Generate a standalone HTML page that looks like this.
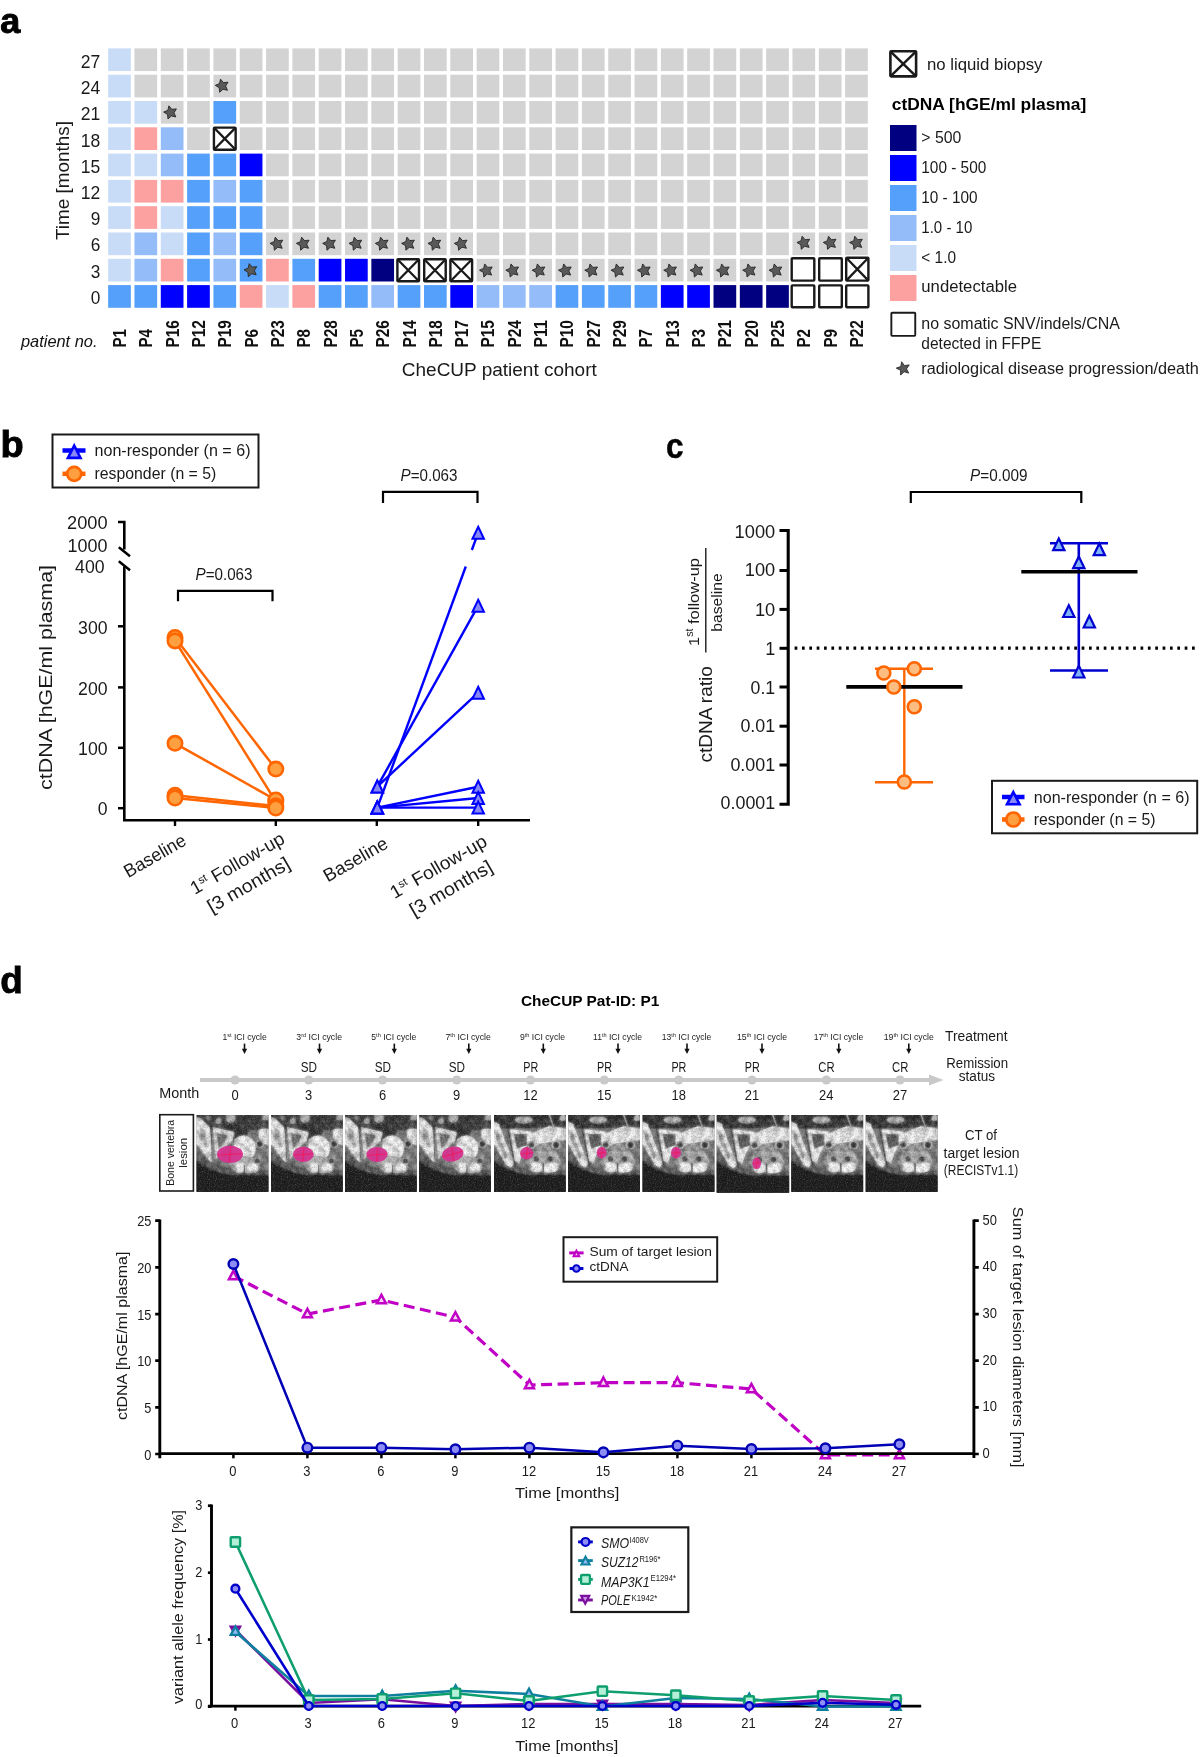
<!DOCTYPE html>
<html><head><meta charset="utf-8"><title>Figure</title>
<style>
html,body{margin:0;padding:0;background:#fff;}
body{width:1200px;height:1757px;overflow:hidden;font-family:"Liberation Sans",sans-serif;}
svg{display:block;}
svg text{font-family:"Liberation Sans",sans-serif;}
</style></head><body>
<svg width="1200" height="1757" viewBox="0 0 1200 1757" fill="#1a1a1a" style="opacity:0.999">
<rect width="1200" height="1757" fill="#fff"/>

<g id="panelA">
<text x="0.20" y="33.20" font-size="35.2" text-anchor="start" font-weight="bold" textLength="20.00" lengthAdjust="spacingAndGlyphs" fill="#000" stroke="#000" stroke-width="0.9">a</text>
<rect x="108.15" y="48.40" width="22.7" height="22.7" fill="#c8dcf7"/>
<rect x="108.15" y="74.70" width="22.7" height="22.7" fill="#c8dcf7"/>
<rect x="108.15" y="101.00" width="22.7" height="22.7" fill="#c8dcf7"/>
<rect x="108.15" y="127.30" width="22.7" height="22.7" fill="#c8dcf7"/>
<rect x="108.15" y="153.60" width="22.7" height="22.7" fill="#c8dcf7"/>
<rect x="108.15" y="179.89" width="22.7" height="22.7" fill="#c8dcf7"/>
<rect x="108.15" y="206.19" width="22.7" height="22.7" fill="#c8dcf7"/>
<rect x="108.15" y="232.49" width="22.7" height="22.7" fill="#c8dcf7"/>
<rect x="108.15" y="258.79" width="22.7" height="22.7" fill="#c8dcf7"/>
<rect x="108.15" y="285.09" width="22.7" height="22.7" fill="#55a0fa"/>
<text x="126.00" y="347.60" font-size="19" text-anchor="start" font-weight="bold" textLength="18.60" lengthAdjust="spacingAndGlyphs" transform="rotate(-90 126.00 347.60)" fill="#111" >P1</text>
<rect x="134.47" y="48.40" width="22.7" height="22.7" fill="#d3d3d3"/>
<rect x="134.47" y="74.70" width="22.7" height="22.7" fill="#d3d3d3"/>
<rect x="134.47" y="101.00" width="22.7" height="22.7" fill="#c8dcf7"/>
<rect x="134.47" y="127.30" width="22.7" height="22.7" fill="#fda0a0"/>
<rect x="134.47" y="153.60" width="22.7" height="22.7" fill="#c8dcf7"/>
<rect x="134.47" y="179.89" width="22.7" height="22.7" fill="#fda0a0"/>
<rect x="134.47" y="206.19" width="22.7" height="22.7" fill="#fda0a0"/>
<rect x="134.47" y="232.49" width="22.7" height="22.7" fill="#93bcf9"/>
<rect x="134.47" y="258.79" width="22.7" height="22.7" fill="#93bcf9"/>
<rect x="134.47" y="285.09" width="22.7" height="22.7" fill="#55a0fa"/>
<text x="152.32" y="347.60" font-size="19" text-anchor="start" font-weight="bold" textLength="18.60" lengthAdjust="spacingAndGlyphs" transform="rotate(-90 152.32 347.60)" fill="#111" >P4</text>
<rect x="160.79" y="48.40" width="22.7" height="22.7" fill="#d3d3d3"/>
<rect x="160.79" y="74.70" width="22.7" height="22.7" fill="#d3d3d3"/>
<rect x="160.79" y="101.00" width="22.7" height="22.7" fill="#d3d3d3"/>
<rect x="160.79" y="127.30" width="22.7" height="22.7" fill="#93bcf9"/>
<rect x="160.79" y="153.60" width="22.7" height="22.7" fill="#93bcf9"/>
<rect x="160.79" y="179.89" width="22.7" height="22.7" fill="#fda0a0"/>
<rect x="160.79" y="206.19" width="22.7" height="22.7" fill="#c8dcf7"/>
<rect x="160.79" y="232.49" width="22.7" height="22.7" fill="#c8dcf7"/>
<rect x="160.79" y="258.79" width="22.7" height="22.7" fill="#fda0a0"/>
<rect x="160.79" y="285.09" width="22.7" height="22.7" fill="#0000ff"/>
<text x="178.64" y="347.60" font-size="19" text-anchor="start" font-weight="bold" textLength="27.50" lengthAdjust="spacingAndGlyphs" transform="rotate(-90 178.64 347.60)" fill="#111" >P16</text>
<rect x="187.11" y="48.40" width="22.7" height="22.7" fill="#d3d3d3"/>
<rect x="187.11" y="74.70" width="22.7" height="22.7" fill="#d3d3d3"/>
<rect x="187.11" y="101.00" width="22.7" height="22.7" fill="#d3d3d3"/>
<rect x="187.11" y="127.30" width="22.7" height="22.7" fill="#d3d3d3"/>
<rect x="187.11" y="153.60" width="22.7" height="22.7" fill="#55a0fa"/>
<rect x="187.11" y="179.89" width="22.7" height="22.7" fill="#55a0fa"/>
<rect x="187.11" y="206.19" width="22.7" height="22.7" fill="#55a0fa"/>
<rect x="187.11" y="232.49" width="22.7" height="22.7" fill="#55a0fa"/>
<rect x="187.11" y="258.79" width="22.7" height="22.7" fill="#55a0fa"/>
<rect x="187.11" y="285.09" width="22.7" height="22.7" fill="#0000ff"/>
<text x="204.96" y="347.60" font-size="19" text-anchor="start" font-weight="bold" textLength="27.50" lengthAdjust="spacingAndGlyphs" transform="rotate(-90 204.96 347.60)" fill="#111" >P12</text>
<rect x="213.43" y="48.40" width="22.7" height="22.7" fill="#d3d3d3"/>
<rect x="213.43" y="74.70" width="22.7" height="22.7" fill="#d3d3d3"/>
<rect x="213.43" y="101.00" width="22.7" height="22.7" fill="#55a0fa"/>
<rect x="213.43" y="153.60" width="22.7" height="22.7" fill="#55a0fa"/>
<rect x="213.43" y="179.89" width="22.7" height="22.7" fill="#93bcf9"/>
<rect x="213.43" y="206.19" width="22.7" height="22.7" fill="#55a0fa"/>
<rect x="213.43" y="232.49" width="22.7" height="22.7" fill="#93bcf9"/>
<rect x="213.43" y="258.79" width="22.7" height="22.7" fill="#93bcf9"/>
<rect x="213.43" y="285.09" width="22.7" height="22.7" fill="#55a0fa"/>
<text x="231.28" y="347.60" font-size="19" text-anchor="start" font-weight="bold" textLength="27.50" lengthAdjust="spacingAndGlyphs" transform="rotate(-90 231.28 347.60)" fill="#111" >P19</text>
<rect x="239.75" y="48.40" width="22.7" height="22.7" fill="#d3d3d3"/>
<rect x="239.75" y="74.70" width="22.7" height="22.7" fill="#d3d3d3"/>
<rect x="239.75" y="101.00" width="22.7" height="22.7" fill="#d3d3d3"/>
<rect x="239.75" y="127.30" width="22.7" height="22.7" fill="#d3d3d3"/>
<rect x="239.75" y="153.60" width="22.7" height="22.7" fill="#0000ff"/>
<rect x="239.75" y="179.89" width="22.7" height="22.7" fill="#55a0fa"/>
<rect x="239.75" y="206.19" width="22.7" height="22.7" fill="#55a0fa"/>
<rect x="239.75" y="232.49" width="22.7" height="22.7" fill="#55a0fa"/>
<rect x="239.75" y="258.79" width="22.7" height="22.7" fill="#55a0fa"/>
<rect x="239.75" y="285.09" width="22.7" height="22.7" fill="#fda0a0"/>
<text x="257.60" y="347.60" font-size="19" text-anchor="start" font-weight="bold" textLength="18.60" lengthAdjust="spacingAndGlyphs" transform="rotate(-90 257.60 347.60)" fill="#111" >P6</text>
<rect x="266.07" y="48.40" width="22.7" height="22.7" fill="#d3d3d3"/>
<rect x="266.07" y="74.70" width="22.7" height="22.7" fill="#d3d3d3"/>
<rect x="266.07" y="101.00" width="22.7" height="22.7" fill="#d3d3d3"/>
<rect x="266.07" y="127.30" width="22.7" height="22.7" fill="#d3d3d3"/>
<rect x="266.07" y="153.60" width="22.7" height="22.7" fill="#d3d3d3"/>
<rect x="266.07" y="179.89" width="22.7" height="22.7" fill="#d3d3d3"/>
<rect x="266.07" y="206.19" width="22.7" height="22.7" fill="#d3d3d3"/>
<rect x="266.07" y="232.49" width="22.7" height="22.7" fill="#d3d3d3"/>
<rect x="266.07" y="258.79" width="22.7" height="22.7" fill="#fda0a0"/>
<rect x="266.07" y="285.09" width="22.7" height="22.7" fill="#c8dcf7"/>
<text x="283.92" y="347.60" font-size="19" text-anchor="start" font-weight="bold" textLength="27.50" lengthAdjust="spacingAndGlyphs" transform="rotate(-90 283.92 347.60)" fill="#111" >P23</text>
<rect x="292.39" y="48.40" width="22.7" height="22.7" fill="#d3d3d3"/>
<rect x="292.39" y="74.70" width="22.7" height="22.7" fill="#d3d3d3"/>
<rect x="292.39" y="101.00" width="22.7" height="22.7" fill="#d3d3d3"/>
<rect x="292.39" y="127.30" width="22.7" height="22.7" fill="#d3d3d3"/>
<rect x="292.39" y="153.60" width="22.7" height="22.7" fill="#d3d3d3"/>
<rect x="292.39" y="179.89" width="22.7" height="22.7" fill="#d3d3d3"/>
<rect x="292.39" y="206.19" width="22.7" height="22.7" fill="#d3d3d3"/>
<rect x="292.39" y="232.49" width="22.7" height="22.7" fill="#d3d3d3"/>
<rect x="292.39" y="258.79" width="22.7" height="22.7" fill="#55a0fa"/>
<rect x="292.39" y="285.09" width="22.7" height="22.7" fill="#fda0a0"/>
<text x="310.24" y="347.60" font-size="19" text-anchor="start" font-weight="bold" textLength="18.60" lengthAdjust="spacingAndGlyphs" transform="rotate(-90 310.24 347.60)" fill="#111" >P8</text>
<rect x="318.71" y="48.40" width="22.7" height="22.7" fill="#d3d3d3"/>
<rect x="318.71" y="74.70" width="22.7" height="22.7" fill="#d3d3d3"/>
<rect x="318.71" y="101.00" width="22.7" height="22.7" fill="#d3d3d3"/>
<rect x="318.71" y="127.30" width="22.7" height="22.7" fill="#d3d3d3"/>
<rect x="318.71" y="153.60" width="22.7" height="22.7" fill="#d3d3d3"/>
<rect x="318.71" y="179.89" width="22.7" height="22.7" fill="#d3d3d3"/>
<rect x="318.71" y="206.19" width="22.7" height="22.7" fill="#d3d3d3"/>
<rect x="318.71" y="232.49" width="22.7" height="22.7" fill="#d3d3d3"/>
<rect x="318.71" y="258.79" width="22.7" height="22.7" fill="#0000ff"/>
<rect x="318.71" y="285.09" width="22.7" height="22.7" fill="#55a0fa"/>
<text x="336.56" y="347.60" font-size="19" text-anchor="start" font-weight="bold" textLength="27.50" lengthAdjust="spacingAndGlyphs" transform="rotate(-90 336.56 347.60)" fill="#111" >P28</text>
<rect x="345.03" y="48.40" width="22.7" height="22.7" fill="#d3d3d3"/>
<rect x="345.03" y="74.70" width="22.7" height="22.7" fill="#d3d3d3"/>
<rect x="345.03" y="101.00" width="22.7" height="22.7" fill="#d3d3d3"/>
<rect x="345.03" y="127.30" width="22.7" height="22.7" fill="#d3d3d3"/>
<rect x="345.03" y="153.60" width="22.7" height="22.7" fill="#d3d3d3"/>
<rect x="345.03" y="179.89" width="22.7" height="22.7" fill="#d3d3d3"/>
<rect x="345.03" y="206.19" width="22.7" height="22.7" fill="#d3d3d3"/>
<rect x="345.03" y="232.49" width="22.7" height="22.7" fill="#d3d3d3"/>
<rect x="345.03" y="258.79" width="22.7" height="22.7" fill="#0000ff"/>
<rect x="345.03" y="285.09" width="22.7" height="22.7" fill="#55a0fa"/>
<text x="362.88" y="347.60" font-size="19" text-anchor="start" font-weight="bold" textLength="18.60" lengthAdjust="spacingAndGlyphs" transform="rotate(-90 362.88 347.60)" fill="#111" >P5</text>
<rect x="371.35" y="48.40" width="22.7" height="22.7" fill="#d3d3d3"/>
<rect x="371.35" y="74.70" width="22.7" height="22.7" fill="#d3d3d3"/>
<rect x="371.35" y="101.00" width="22.7" height="22.7" fill="#d3d3d3"/>
<rect x="371.35" y="127.30" width="22.7" height="22.7" fill="#d3d3d3"/>
<rect x="371.35" y="153.60" width="22.7" height="22.7" fill="#d3d3d3"/>
<rect x="371.35" y="179.89" width="22.7" height="22.7" fill="#d3d3d3"/>
<rect x="371.35" y="206.19" width="22.7" height="22.7" fill="#d3d3d3"/>
<rect x="371.35" y="232.49" width="22.7" height="22.7" fill="#d3d3d3"/>
<rect x="371.35" y="258.79" width="22.7" height="22.7" fill="#000080"/>
<rect x="371.35" y="285.09" width="22.7" height="22.7" fill="#93bcf9"/>
<text x="389.20" y="347.60" font-size="19" text-anchor="start" font-weight="bold" textLength="27.50" lengthAdjust="spacingAndGlyphs" transform="rotate(-90 389.20 347.60)" fill="#111" >P26</text>
<rect x="397.67" y="48.40" width="22.7" height="22.7" fill="#d3d3d3"/>
<rect x="397.67" y="74.70" width="22.7" height="22.7" fill="#d3d3d3"/>
<rect x="397.67" y="101.00" width="22.7" height="22.7" fill="#d3d3d3"/>
<rect x="397.67" y="127.30" width="22.7" height="22.7" fill="#d3d3d3"/>
<rect x="397.67" y="153.60" width="22.7" height="22.7" fill="#d3d3d3"/>
<rect x="397.67" y="179.89" width="22.7" height="22.7" fill="#d3d3d3"/>
<rect x="397.67" y="206.19" width="22.7" height="22.7" fill="#d3d3d3"/>
<rect x="397.67" y="232.49" width="22.7" height="22.7" fill="#d3d3d3"/>
<rect x="397.67" y="285.09" width="22.7" height="22.7" fill="#55a0fa"/>
<text x="415.52" y="347.60" font-size="19" text-anchor="start" font-weight="bold" textLength="27.50" lengthAdjust="spacingAndGlyphs" transform="rotate(-90 415.52 347.60)" fill="#111" >P14</text>
<rect x="423.99" y="48.40" width="22.7" height="22.7" fill="#d3d3d3"/>
<rect x="423.99" y="74.70" width="22.7" height="22.7" fill="#d3d3d3"/>
<rect x="423.99" y="101.00" width="22.7" height="22.7" fill="#d3d3d3"/>
<rect x="423.99" y="127.30" width="22.7" height="22.7" fill="#d3d3d3"/>
<rect x="423.99" y="153.60" width="22.7" height="22.7" fill="#d3d3d3"/>
<rect x="423.99" y="179.89" width="22.7" height="22.7" fill="#d3d3d3"/>
<rect x="423.99" y="206.19" width="22.7" height="22.7" fill="#d3d3d3"/>
<rect x="423.99" y="232.49" width="22.7" height="22.7" fill="#d3d3d3"/>
<rect x="423.99" y="285.09" width="22.7" height="22.7" fill="#55a0fa"/>
<text x="441.84" y="347.60" font-size="19" text-anchor="start" font-weight="bold" textLength="27.50" lengthAdjust="spacingAndGlyphs" transform="rotate(-90 441.84 347.60)" fill="#111" >P18</text>
<rect x="450.31" y="48.40" width="22.7" height="22.7" fill="#d3d3d3"/>
<rect x="450.31" y="74.70" width="22.7" height="22.7" fill="#d3d3d3"/>
<rect x="450.31" y="101.00" width="22.7" height="22.7" fill="#d3d3d3"/>
<rect x="450.31" y="127.30" width="22.7" height="22.7" fill="#d3d3d3"/>
<rect x="450.31" y="153.60" width="22.7" height="22.7" fill="#d3d3d3"/>
<rect x="450.31" y="179.89" width="22.7" height="22.7" fill="#d3d3d3"/>
<rect x="450.31" y="206.19" width="22.7" height="22.7" fill="#d3d3d3"/>
<rect x="450.31" y="232.49" width="22.7" height="22.7" fill="#d3d3d3"/>
<rect x="450.31" y="285.09" width="22.7" height="22.7" fill="#0000ff"/>
<text x="468.16" y="347.60" font-size="19" text-anchor="start" font-weight="bold" textLength="27.50" lengthAdjust="spacingAndGlyphs" transform="rotate(-90 468.16 347.60)" fill="#111" >P17</text>
<rect x="476.63" y="48.40" width="22.7" height="22.7" fill="#d3d3d3"/>
<rect x="476.63" y="74.70" width="22.7" height="22.7" fill="#d3d3d3"/>
<rect x="476.63" y="101.00" width="22.7" height="22.7" fill="#d3d3d3"/>
<rect x="476.63" y="127.30" width="22.7" height="22.7" fill="#d3d3d3"/>
<rect x="476.63" y="153.60" width="22.7" height="22.7" fill="#d3d3d3"/>
<rect x="476.63" y="179.89" width="22.7" height="22.7" fill="#d3d3d3"/>
<rect x="476.63" y="206.19" width="22.7" height="22.7" fill="#d3d3d3"/>
<rect x="476.63" y="232.49" width="22.7" height="22.7" fill="#d3d3d3"/>
<rect x="476.63" y="258.79" width="22.7" height="22.7" fill="#d3d3d3"/>
<rect x="476.63" y="285.09" width="22.7" height="22.7" fill="#93bcf9"/>
<text x="494.48" y="347.60" font-size="19" text-anchor="start" font-weight="bold" textLength="27.50" lengthAdjust="spacingAndGlyphs" transform="rotate(-90 494.48 347.60)" fill="#111" >P15</text>
<rect x="502.95" y="48.40" width="22.7" height="22.7" fill="#d3d3d3"/>
<rect x="502.95" y="74.70" width="22.7" height="22.7" fill="#d3d3d3"/>
<rect x="502.95" y="101.00" width="22.7" height="22.7" fill="#d3d3d3"/>
<rect x="502.95" y="127.30" width="22.7" height="22.7" fill="#d3d3d3"/>
<rect x="502.95" y="153.60" width="22.7" height="22.7" fill="#d3d3d3"/>
<rect x="502.95" y="179.89" width="22.7" height="22.7" fill="#d3d3d3"/>
<rect x="502.95" y="206.19" width="22.7" height="22.7" fill="#d3d3d3"/>
<rect x="502.95" y="232.49" width="22.7" height="22.7" fill="#d3d3d3"/>
<rect x="502.95" y="258.79" width="22.7" height="22.7" fill="#d3d3d3"/>
<rect x="502.95" y="285.09" width="22.7" height="22.7" fill="#93bcf9"/>
<text x="520.80" y="347.60" font-size="19" text-anchor="start" font-weight="bold" textLength="27.50" lengthAdjust="spacingAndGlyphs" transform="rotate(-90 520.80 347.60)" fill="#111" >P24</text>
<rect x="529.27" y="48.40" width="22.7" height="22.7" fill="#d3d3d3"/>
<rect x="529.27" y="74.70" width="22.7" height="22.7" fill="#d3d3d3"/>
<rect x="529.27" y="101.00" width="22.7" height="22.7" fill="#d3d3d3"/>
<rect x="529.27" y="127.30" width="22.7" height="22.7" fill="#d3d3d3"/>
<rect x="529.27" y="153.60" width="22.7" height="22.7" fill="#d3d3d3"/>
<rect x="529.27" y="179.89" width="22.7" height="22.7" fill="#d3d3d3"/>
<rect x="529.27" y="206.19" width="22.7" height="22.7" fill="#d3d3d3"/>
<rect x="529.27" y="232.49" width="22.7" height="22.7" fill="#d3d3d3"/>
<rect x="529.27" y="258.79" width="22.7" height="22.7" fill="#d3d3d3"/>
<rect x="529.27" y="285.09" width="22.7" height="22.7" fill="#93bcf9"/>
<text x="547.12" y="347.60" font-size="19" text-anchor="start" font-weight="bold" textLength="27.50" lengthAdjust="spacingAndGlyphs" transform="rotate(-90 547.12 347.60)" fill="#111" >P11</text>
<rect x="555.59" y="48.40" width="22.7" height="22.7" fill="#d3d3d3"/>
<rect x="555.59" y="74.70" width="22.7" height="22.7" fill="#d3d3d3"/>
<rect x="555.59" y="101.00" width="22.7" height="22.7" fill="#d3d3d3"/>
<rect x="555.59" y="127.30" width="22.7" height="22.7" fill="#d3d3d3"/>
<rect x="555.59" y="153.60" width="22.7" height="22.7" fill="#d3d3d3"/>
<rect x="555.59" y="179.89" width="22.7" height="22.7" fill="#d3d3d3"/>
<rect x="555.59" y="206.19" width="22.7" height="22.7" fill="#d3d3d3"/>
<rect x="555.59" y="232.49" width="22.7" height="22.7" fill="#d3d3d3"/>
<rect x="555.59" y="258.79" width="22.7" height="22.7" fill="#d3d3d3"/>
<rect x="555.59" y="285.09" width="22.7" height="22.7" fill="#55a0fa"/>
<text x="573.44" y="347.60" font-size="19" text-anchor="start" font-weight="bold" textLength="27.50" lengthAdjust="spacingAndGlyphs" transform="rotate(-90 573.44 347.60)" fill="#111" >P10</text>
<rect x="581.91" y="48.40" width="22.7" height="22.7" fill="#d3d3d3"/>
<rect x="581.91" y="74.70" width="22.7" height="22.7" fill="#d3d3d3"/>
<rect x="581.91" y="101.00" width="22.7" height="22.7" fill="#d3d3d3"/>
<rect x="581.91" y="127.30" width="22.7" height="22.7" fill="#d3d3d3"/>
<rect x="581.91" y="153.60" width="22.7" height="22.7" fill="#d3d3d3"/>
<rect x="581.91" y="179.89" width="22.7" height="22.7" fill="#d3d3d3"/>
<rect x="581.91" y="206.19" width="22.7" height="22.7" fill="#d3d3d3"/>
<rect x="581.91" y="232.49" width="22.7" height="22.7" fill="#d3d3d3"/>
<rect x="581.91" y="258.79" width="22.7" height="22.7" fill="#d3d3d3"/>
<rect x="581.91" y="285.09" width="22.7" height="22.7" fill="#55a0fa"/>
<text x="599.76" y="347.60" font-size="19" text-anchor="start" font-weight="bold" textLength="27.50" lengthAdjust="spacingAndGlyphs" transform="rotate(-90 599.76 347.60)" fill="#111" >P27</text>
<rect x="608.23" y="48.40" width="22.7" height="22.7" fill="#d3d3d3"/>
<rect x="608.23" y="74.70" width="22.7" height="22.7" fill="#d3d3d3"/>
<rect x="608.23" y="101.00" width="22.7" height="22.7" fill="#d3d3d3"/>
<rect x="608.23" y="127.30" width="22.7" height="22.7" fill="#d3d3d3"/>
<rect x="608.23" y="153.60" width="22.7" height="22.7" fill="#d3d3d3"/>
<rect x="608.23" y="179.89" width="22.7" height="22.7" fill="#d3d3d3"/>
<rect x="608.23" y="206.19" width="22.7" height="22.7" fill="#d3d3d3"/>
<rect x="608.23" y="232.49" width="22.7" height="22.7" fill="#d3d3d3"/>
<rect x="608.23" y="258.79" width="22.7" height="22.7" fill="#d3d3d3"/>
<rect x="608.23" y="285.09" width="22.7" height="22.7" fill="#55a0fa"/>
<text x="626.08" y="347.60" font-size="19" text-anchor="start" font-weight="bold" textLength="27.50" lengthAdjust="spacingAndGlyphs" transform="rotate(-90 626.08 347.60)" fill="#111" >P29</text>
<rect x="634.55" y="48.40" width="22.7" height="22.7" fill="#d3d3d3"/>
<rect x="634.55" y="74.70" width="22.7" height="22.7" fill="#d3d3d3"/>
<rect x="634.55" y="101.00" width="22.7" height="22.7" fill="#d3d3d3"/>
<rect x="634.55" y="127.30" width="22.7" height="22.7" fill="#d3d3d3"/>
<rect x="634.55" y="153.60" width="22.7" height="22.7" fill="#d3d3d3"/>
<rect x="634.55" y="179.89" width="22.7" height="22.7" fill="#d3d3d3"/>
<rect x="634.55" y="206.19" width="22.7" height="22.7" fill="#d3d3d3"/>
<rect x="634.55" y="232.49" width="22.7" height="22.7" fill="#d3d3d3"/>
<rect x="634.55" y="258.79" width="22.7" height="22.7" fill="#d3d3d3"/>
<rect x="634.55" y="285.09" width="22.7" height="22.7" fill="#55a0fa"/>
<text x="652.40" y="347.60" font-size="19" text-anchor="start" font-weight="bold" textLength="18.60" lengthAdjust="spacingAndGlyphs" transform="rotate(-90 652.40 347.60)" fill="#111" >P7</text>
<rect x="660.87" y="48.40" width="22.7" height="22.7" fill="#d3d3d3"/>
<rect x="660.87" y="74.70" width="22.7" height="22.7" fill="#d3d3d3"/>
<rect x="660.87" y="101.00" width="22.7" height="22.7" fill="#d3d3d3"/>
<rect x="660.87" y="127.30" width="22.7" height="22.7" fill="#d3d3d3"/>
<rect x="660.87" y="153.60" width="22.7" height="22.7" fill="#d3d3d3"/>
<rect x="660.87" y="179.89" width="22.7" height="22.7" fill="#d3d3d3"/>
<rect x="660.87" y="206.19" width="22.7" height="22.7" fill="#d3d3d3"/>
<rect x="660.87" y="232.49" width="22.7" height="22.7" fill="#d3d3d3"/>
<rect x="660.87" y="258.79" width="22.7" height="22.7" fill="#d3d3d3"/>
<rect x="660.87" y="285.09" width="22.7" height="22.7" fill="#0000ff"/>
<text x="678.72" y="347.60" font-size="19" text-anchor="start" font-weight="bold" textLength="27.50" lengthAdjust="spacingAndGlyphs" transform="rotate(-90 678.72 347.60)" fill="#111" >P13</text>
<rect x="687.19" y="48.40" width="22.7" height="22.7" fill="#d3d3d3"/>
<rect x="687.19" y="74.70" width="22.7" height="22.7" fill="#d3d3d3"/>
<rect x="687.19" y="101.00" width="22.7" height="22.7" fill="#d3d3d3"/>
<rect x="687.19" y="127.30" width="22.7" height="22.7" fill="#d3d3d3"/>
<rect x="687.19" y="153.60" width="22.7" height="22.7" fill="#d3d3d3"/>
<rect x="687.19" y="179.89" width="22.7" height="22.7" fill="#d3d3d3"/>
<rect x="687.19" y="206.19" width="22.7" height="22.7" fill="#d3d3d3"/>
<rect x="687.19" y="232.49" width="22.7" height="22.7" fill="#d3d3d3"/>
<rect x="687.19" y="258.79" width="22.7" height="22.7" fill="#d3d3d3"/>
<rect x="687.19" y="285.09" width="22.7" height="22.7" fill="#0000ff"/>
<text x="705.04" y="347.60" font-size="19" text-anchor="start" font-weight="bold" textLength="18.60" lengthAdjust="spacingAndGlyphs" transform="rotate(-90 705.04 347.60)" fill="#111" >P3</text>
<rect x="713.51" y="48.40" width="22.7" height="22.7" fill="#d3d3d3"/>
<rect x="713.51" y="74.70" width="22.7" height="22.7" fill="#d3d3d3"/>
<rect x="713.51" y="101.00" width="22.7" height="22.7" fill="#d3d3d3"/>
<rect x="713.51" y="127.30" width="22.7" height="22.7" fill="#d3d3d3"/>
<rect x="713.51" y="153.60" width="22.7" height="22.7" fill="#d3d3d3"/>
<rect x="713.51" y="179.89" width="22.7" height="22.7" fill="#d3d3d3"/>
<rect x="713.51" y="206.19" width="22.7" height="22.7" fill="#d3d3d3"/>
<rect x="713.51" y="232.49" width="22.7" height="22.7" fill="#d3d3d3"/>
<rect x="713.51" y="258.79" width="22.7" height="22.7" fill="#d3d3d3"/>
<rect x="713.51" y="285.09" width="22.7" height="22.7" fill="#000080"/>
<text x="731.36" y="347.60" font-size="19" text-anchor="start" font-weight="bold" textLength="27.50" lengthAdjust="spacingAndGlyphs" transform="rotate(-90 731.36 347.60)" fill="#111" >P21</text>
<rect x="739.83" y="48.40" width="22.7" height="22.7" fill="#d3d3d3"/>
<rect x="739.83" y="74.70" width="22.7" height="22.7" fill="#d3d3d3"/>
<rect x="739.83" y="101.00" width="22.7" height="22.7" fill="#d3d3d3"/>
<rect x="739.83" y="127.30" width="22.7" height="22.7" fill="#d3d3d3"/>
<rect x="739.83" y="153.60" width="22.7" height="22.7" fill="#d3d3d3"/>
<rect x="739.83" y="179.89" width="22.7" height="22.7" fill="#d3d3d3"/>
<rect x="739.83" y="206.19" width="22.7" height="22.7" fill="#d3d3d3"/>
<rect x="739.83" y="232.49" width="22.7" height="22.7" fill="#d3d3d3"/>
<rect x="739.83" y="258.79" width="22.7" height="22.7" fill="#d3d3d3"/>
<rect x="739.83" y="285.09" width="22.7" height="22.7" fill="#000080"/>
<text x="757.68" y="347.60" font-size="19" text-anchor="start" font-weight="bold" textLength="27.50" lengthAdjust="spacingAndGlyphs" transform="rotate(-90 757.68 347.60)" fill="#111" >P20</text>
<rect x="766.15" y="48.40" width="22.7" height="22.7" fill="#d3d3d3"/>
<rect x="766.15" y="74.70" width="22.7" height="22.7" fill="#d3d3d3"/>
<rect x="766.15" y="101.00" width="22.7" height="22.7" fill="#d3d3d3"/>
<rect x="766.15" y="127.30" width="22.7" height="22.7" fill="#d3d3d3"/>
<rect x="766.15" y="153.60" width="22.7" height="22.7" fill="#d3d3d3"/>
<rect x="766.15" y="179.89" width="22.7" height="22.7" fill="#d3d3d3"/>
<rect x="766.15" y="206.19" width="22.7" height="22.7" fill="#d3d3d3"/>
<rect x="766.15" y="232.49" width="22.7" height="22.7" fill="#d3d3d3"/>
<rect x="766.15" y="258.79" width="22.7" height="22.7" fill="#d3d3d3"/>
<rect x="766.15" y="285.09" width="22.7" height="22.7" fill="#000080"/>
<text x="784.00" y="347.60" font-size="19" text-anchor="start" font-weight="bold" textLength="27.50" lengthAdjust="spacingAndGlyphs" transform="rotate(-90 784.00 347.60)" fill="#111" >P25</text>
<rect x="792.47" y="48.40" width="22.7" height="22.7" fill="#d3d3d3"/>
<rect x="792.47" y="74.70" width="22.7" height="22.7" fill="#d3d3d3"/>
<rect x="792.47" y="101.00" width="22.7" height="22.7" fill="#d3d3d3"/>
<rect x="792.47" y="127.30" width="22.7" height="22.7" fill="#d3d3d3"/>
<rect x="792.47" y="153.60" width="22.7" height="22.7" fill="#d3d3d3"/>
<rect x="792.47" y="179.89" width="22.7" height="22.7" fill="#d3d3d3"/>
<rect x="792.47" y="206.19" width="22.7" height="22.7" fill="#d3d3d3"/>
<rect x="792.47" y="232.49" width="22.7" height="22.7" fill="#d3d3d3"/>
<text x="810.32" y="347.60" font-size="19" text-anchor="start" font-weight="bold" textLength="18.60" lengthAdjust="spacingAndGlyphs" transform="rotate(-90 810.32 347.60)" fill="#111" >P2</text>
<rect x="818.79" y="48.40" width="22.7" height="22.7" fill="#d3d3d3"/>
<rect x="818.79" y="74.70" width="22.7" height="22.7" fill="#d3d3d3"/>
<rect x="818.79" y="101.00" width="22.7" height="22.7" fill="#d3d3d3"/>
<rect x="818.79" y="127.30" width="22.7" height="22.7" fill="#d3d3d3"/>
<rect x="818.79" y="153.60" width="22.7" height="22.7" fill="#d3d3d3"/>
<rect x="818.79" y="179.89" width="22.7" height="22.7" fill="#d3d3d3"/>
<rect x="818.79" y="206.19" width="22.7" height="22.7" fill="#d3d3d3"/>
<rect x="818.79" y="232.49" width="22.7" height="22.7" fill="#d3d3d3"/>
<text x="836.64" y="347.60" font-size="19" text-anchor="start" font-weight="bold" textLength="18.60" lengthAdjust="spacingAndGlyphs" transform="rotate(-90 836.64 347.60)" fill="#111" >P9</text>
<rect x="845.11" y="48.40" width="22.7" height="22.7" fill="#d3d3d3"/>
<rect x="845.11" y="74.70" width="22.7" height="22.7" fill="#d3d3d3"/>
<rect x="845.11" y="101.00" width="22.7" height="22.7" fill="#d3d3d3"/>
<rect x="845.11" y="127.30" width="22.7" height="22.7" fill="#d3d3d3"/>
<rect x="845.11" y="153.60" width="22.7" height="22.7" fill="#d3d3d3"/>
<rect x="845.11" y="179.89" width="22.7" height="22.7" fill="#d3d3d3"/>
<rect x="845.11" y="206.19" width="22.7" height="22.7" fill="#d3d3d3"/>
<rect x="845.11" y="232.49" width="22.7" height="22.7" fill="#d3d3d3"/>
<text x="862.96" y="347.60" font-size="19" text-anchor="start" font-weight="bold" textLength="27.50" lengthAdjust="spacingAndGlyphs" transform="rotate(-90 862.96 347.60)" fill="#111" >P22</text>
<rect x="213.93" y="127.60" width="21.70" height="22.10" fill="#fff" stroke="#1a1a1a" stroke-width="2.4" rx="0.8"/><path d="M213.93 127.60L235.63 149.70M235.63 127.60L213.93 149.70" stroke="#1a1a1a" stroke-width="2.28" fill="none"/>
<rect x="397.40" y="259.20" width="21.60" height="22.00" fill="#fff" stroke="#1a1a1a" stroke-width="2.4" rx="0.8"/><path d="M397.40 259.20L419.00 281.20M419.00 259.20L397.40 281.20" stroke="#1a1a1a" stroke-width="2.28" fill="none"/>
<rect x="424.20" y="259.20" width="21.50" height="22.00" fill="#fff" stroke="#1a1a1a" stroke-width="2.4" rx="0.8"/><path d="M424.20 259.20L445.70 281.20M445.70 259.20L424.20 281.20" stroke="#1a1a1a" stroke-width="2.28" fill="none"/>
<rect x="450.40" y="259.20" width="21.70" height="22.00" fill="#fff" stroke="#1a1a1a" stroke-width="2.4" rx="0.8"/><path d="M450.40 259.20L472.10 281.20M472.10 259.20L450.40 281.20" stroke="#1a1a1a" stroke-width="2.28" fill="none"/>
<rect x="791.70" y="258.20" width="22.60" height="22.40" fill="#fff" stroke="#1a1a1a" stroke-width="2.4" rx="0.8"/>
<rect x="791.70" y="285.40" width="22.60" height="21.80" fill="#fff" stroke="#1a1a1a" stroke-width="2.4" rx="0.8"/>
<rect x="819.20" y="258.20" width="22.60" height="22.40" fill="#fff" stroke="#1a1a1a" stroke-width="2.4" rx="0.8"/>
<rect x="819.20" y="285.40" width="22.60" height="21.80" fill="#fff" stroke="#1a1a1a" stroke-width="2.4" rx="0.8"/>
<rect x="846.20" y="257.80" width="22.20" height="22.80" fill="#fff" stroke="#1a1a1a" stroke-width="2.4" rx="0.8"/><path d="M846.20 257.80L868.40 280.60M868.40 257.80L846.20 280.60" stroke="#1a1a1a" stroke-width="2.28" fill="none"/>
<rect x="846.20" y="285.40" width="22.20" height="21.80" fill="#fff" stroke="#1a1a1a" stroke-width="2.4" rx="0.8"/>
<polygon points="168.87,105.85 171.85,109.30 176.39,108.89 174.03,112.79 175.83,116.98 171.39,115.94 167.96,118.95 167.57,114.40 163.66,112.07 167.86,110.30" fill="#595959" stroke="#262626" stroke-width="0.9" stroke-linejoin="round"/>
<polygon points="220.51,79.15 223.49,82.60 228.03,82.19 225.67,86.09 227.47,90.28 223.03,89.24 219.60,92.25 219.21,87.70 215.30,85.37 219.50,83.60" fill="#595959" stroke="#262626" stroke-width="0.9" stroke-linejoin="round"/>
<polygon points="249.23,263.65 252.21,267.10 256.75,266.69 254.39,270.59 256.19,274.78 251.75,273.74 248.32,276.74 247.93,272.20 244.02,269.86 248.22,268.09" fill="#595959" stroke="#262626" stroke-width="0.9" stroke-linejoin="round"/>
<polygon points="275.25,237.15 278.23,240.60 282.77,240.19 280.41,244.09 282.21,248.28 277.77,247.24 274.34,250.24 273.95,245.70 270.04,243.36 274.24,241.59" fill="#595959" stroke="#262626" stroke-width="0.9" stroke-linejoin="round"/>
<polygon points="301.57,237.15 304.55,240.60 309.09,240.19 306.73,244.09 308.53,248.28 304.09,247.24 300.66,250.24 300.27,245.70 296.36,243.36 300.56,241.59" fill="#595959" stroke="#262626" stroke-width="0.9" stroke-linejoin="round"/>
<polygon points="327.89,237.15 330.87,240.60 335.41,240.19 333.05,244.09 334.85,248.28 330.41,247.24 326.98,250.24 326.59,245.70 322.68,243.36 326.88,241.59" fill="#595959" stroke="#262626" stroke-width="0.9" stroke-linejoin="round"/>
<polygon points="354.21,237.15 357.19,240.60 361.73,240.19 359.37,244.09 361.17,248.28 356.73,247.24 353.30,250.24 352.91,245.70 349.00,243.36 353.20,241.59" fill="#595959" stroke="#262626" stroke-width="0.9" stroke-linejoin="round"/>
<polygon points="380.53,237.15 383.51,240.60 388.05,240.19 385.69,244.09 387.49,248.28 383.05,247.24 379.62,250.24 379.23,245.70 375.32,243.36 379.52,241.59" fill="#595959" stroke="#262626" stroke-width="0.9" stroke-linejoin="round"/>
<polygon points="406.85,237.15 409.83,240.60 414.37,240.19 412.01,244.09 413.81,248.28 409.37,247.24 405.94,250.24 405.55,245.70 401.64,243.36 405.84,241.59" fill="#595959" stroke="#262626" stroke-width="0.9" stroke-linejoin="round"/>
<polygon points="433.17,237.15 436.15,240.60 440.69,240.19 438.33,244.09 440.13,248.28 435.69,247.24 432.26,250.24 431.87,245.70 427.96,243.36 432.16,241.59" fill="#595959" stroke="#262626" stroke-width="0.9" stroke-linejoin="round"/>
<polygon points="459.49,237.15 462.47,240.60 467.01,240.19 464.65,244.09 466.45,248.28 462.01,247.24 458.58,250.24 458.19,245.70 454.28,243.36 458.48,241.59" fill="#595959" stroke="#262626" stroke-width="0.9" stroke-linejoin="round"/>
<polygon points="484.71,263.95 487.69,267.40 492.23,266.99 489.87,270.89 491.67,275.08 487.23,274.04 483.80,277.04 483.41,272.50 479.50,270.16 483.70,268.39" fill="#595959" stroke="#262626" stroke-width="0.9" stroke-linejoin="round"/>
<polygon points="511.03,263.95 514.01,267.40 518.55,266.99 516.19,270.89 517.99,275.08 513.55,274.04 510.12,277.04 509.73,272.50 505.82,270.16 510.02,268.39" fill="#595959" stroke="#262626" stroke-width="0.9" stroke-linejoin="round"/>
<polygon points="537.35,263.95 540.33,267.40 544.87,266.99 542.51,270.89 544.31,275.08 539.87,274.04 536.44,277.04 536.05,272.50 532.14,270.16 536.34,268.39" fill="#595959" stroke="#262626" stroke-width="0.9" stroke-linejoin="round"/>
<polygon points="563.67,263.95 566.65,267.40 571.19,266.99 568.83,270.89 570.63,275.08 566.19,274.04 562.76,277.04 562.37,272.50 558.46,270.16 562.66,268.39" fill="#595959" stroke="#262626" stroke-width="0.9" stroke-linejoin="round"/>
<polygon points="589.99,263.95 592.97,267.40 597.51,266.99 595.15,270.89 596.95,275.08 592.51,274.04 589.08,277.04 588.69,272.50 584.78,270.16 588.98,268.39" fill="#595959" stroke="#262626" stroke-width="0.9" stroke-linejoin="round"/>
<polygon points="616.31,263.95 619.29,267.40 623.83,266.99 621.47,270.89 623.27,275.08 618.83,274.04 615.40,277.04 615.01,272.50 611.10,270.16 615.30,268.39" fill="#595959" stroke="#262626" stroke-width="0.9" stroke-linejoin="round"/>
<polygon points="642.63,263.95 645.61,267.40 650.15,266.99 647.79,270.89 649.59,275.08 645.15,274.04 641.72,277.04 641.33,272.50 637.42,270.16 641.62,268.39" fill="#595959" stroke="#262626" stroke-width="0.9" stroke-linejoin="round"/>
<polygon points="668.95,263.95 671.93,267.40 676.47,266.99 674.11,270.89 675.91,275.08 671.47,274.04 668.04,277.04 667.65,272.50 663.74,270.16 667.94,268.39" fill="#595959" stroke="#262626" stroke-width="0.9" stroke-linejoin="round"/>
<polygon points="695.27,263.95 698.25,267.40 702.79,266.99 700.43,270.89 702.23,275.08 697.79,274.04 694.36,277.04 693.97,272.50 690.06,270.16 694.26,268.39" fill="#595959" stroke="#262626" stroke-width="0.9" stroke-linejoin="round"/>
<polygon points="721.59,263.95 724.57,267.40 729.11,266.99 726.75,270.89 728.55,275.08 724.11,274.04 720.68,277.04 720.29,272.50 716.38,270.16 720.58,268.39" fill="#595959" stroke="#262626" stroke-width="0.9" stroke-linejoin="round"/>
<polygon points="747.91,263.95 750.89,267.40 755.43,266.99 753.07,270.89 754.87,275.08 750.43,274.04 747.00,277.04 746.61,272.50 742.70,270.16 746.90,268.39" fill="#595959" stroke="#262626" stroke-width="0.9" stroke-linejoin="round"/>
<polygon points="774.23,263.95 777.21,267.40 781.75,266.99 779.39,270.89 781.19,275.08 776.75,274.04 773.32,277.04 772.93,272.50 769.02,270.16 773.22,268.39" fill="#595959" stroke="#262626" stroke-width="0.9" stroke-linejoin="round"/>
<polygon points="802.15,236.25 805.13,239.70 809.67,239.29 807.31,243.19 809.11,247.38 804.67,246.34 801.24,249.34 800.85,244.80 796.94,242.46 801.14,240.69" fill="#595959" stroke="#262626" stroke-width="0.9" stroke-linejoin="round"/>
<polygon points="828.47,236.25 831.45,239.70 835.99,239.29 833.63,243.19 835.43,247.38 830.99,246.34 827.56,249.34 827.17,244.80 823.26,242.46 827.46,240.69" fill="#595959" stroke="#262626" stroke-width="0.9" stroke-linejoin="round"/>
<polygon points="854.79,236.25 857.77,239.70 862.31,239.29 859.95,243.19 861.75,247.38 857.31,246.34 853.88,249.34 853.49,244.80 849.58,242.46 853.78,240.69" fill="#595959" stroke="#262626" stroke-width="0.9" stroke-linejoin="round"/>
<text x="100.30" y="68.00" font-size="18.5" text-anchor="end" textLength="19.50" lengthAdjust="spacingAndGlyphs" >27</text>
<text x="100.30" y="94.20" font-size="18.5" text-anchor="end" textLength="19.50" lengthAdjust="spacingAndGlyphs" >24</text>
<text x="100.30" y="120.40" font-size="18.5" text-anchor="end" textLength="19.50" lengthAdjust="spacingAndGlyphs" >21</text>
<text x="100.30" y="146.60" font-size="18.5" text-anchor="end" textLength="19.50" lengthAdjust="spacingAndGlyphs" >18</text>
<text x="100.30" y="172.80" font-size="18.5" text-anchor="end" textLength="19.50" lengthAdjust="spacingAndGlyphs" >15</text>
<text x="100.30" y="199.00" font-size="18.5" text-anchor="end" textLength="19.50" lengthAdjust="spacingAndGlyphs" >12</text>
<text x="100.30" y="225.20" font-size="18.5" text-anchor="end" textLength="9.60" lengthAdjust="spacingAndGlyphs" >9</text>
<text x="100.30" y="251.40" font-size="18.5" text-anchor="end" textLength="9.60" lengthAdjust="spacingAndGlyphs" >6</text>
<text x="100.30" y="277.60" font-size="18.5" text-anchor="end" textLength="9.60" lengthAdjust="spacingAndGlyphs" >3</text>
<text x="100.30" y="303.80" font-size="18.5" text-anchor="end" textLength="9.60" lengthAdjust="spacingAndGlyphs" >0</text>
<text x="69.00" y="180.50" font-size="18.5" text-anchor="middle" textLength="119.00" lengthAdjust="spacingAndGlyphs" transform="rotate(-90 69.00 180.50)" >Time [months]</text>
<text x="21.00" y="347.20" font-size="17" text-anchor="start" font-style="italic" textLength="76.50" lengthAdjust="spacingAndGlyphs" fill="#111" >patient no.</text>
<text x="401.80" y="376.20" font-size="18" text-anchor="start" textLength="195.00" lengthAdjust="spacingAndGlyphs" >CheCUP patient cohort</text>
<rect x="890.40" y="51.30" width="25.70" height="25.10" fill="#fff" stroke="#1a1a1a" stroke-width="2.6" rx="0.8"/><path d="M890.40 51.30L916.10 76.40M916.10 51.30L890.40 76.40" stroke="#1a1a1a" stroke-width="2.47" fill="none"/>
<text x="927.00" y="69.60" font-size="16.5" text-anchor="start" textLength="115.50" lengthAdjust="spacingAndGlyphs" >no liquid biopsy</text>
<text x="891.80" y="110.00" font-size="16.5" text-anchor="start" font-weight="bold" textLength="194.50" lengthAdjust="spacingAndGlyphs" fill="#000" >ctDNA [hGE/ml plasma]</text>
<rect x="890" y="125" width="26.5" height="26" fill="#000080"/>
<text x="921.30" y="142.70" font-size="15.8" text-anchor="start" textLength="40.00" lengthAdjust="spacingAndGlyphs" >&gt; 500</text>
<rect x="890" y="155" width="26.5" height="26" fill="#0000ff"/>
<text x="921.30" y="172.70" font-size="15.8" text-anchor="start" textLength="65.00" lengthAdjust="spacingAndGlyphs" >100 - 500</text>
<rect x="890" y="185" width="26.5" height="26" fill="#55a0fa"/>
<text x="921.30" y="202.70" font-size="15.8" text-anchor="start" textLength="56.30" lengthAdjust="spacingAndGlyphs" >10 - 100</text>
<rect x="890" y="215" width="26.5" height="26" fill="#93bcf9"/>
<text x="921.30" y="232.70" font-size="15.8" text-anchor="start" textLength="51.00" lengthAdjust="spacingAndGlyphs" >1.0 - 10</text>
<rect x="890" y="245" width="26.5" height="26" fill="#c8dcf7"/>
<text x="921.30" y="262.70" font-size="15.8" text-anchor="start" textLength="34.70" lengthAdjust="spacingAndGlyphs" >&lt; 1.0</text>
<rect x="890" y="275" width="26.5" height="26" fill="#fda0a0"/>
<text x="921.30" y="291.50" font-size="15.8" text-anchor="start" textLength="95.70" lengthAdjust="spacingAndGlyphs" >undetectable</text>
<rect x="891.35" y="312.75" width="23.90" height="23.10" fill="#fff" stroke="#1a1a1a" stroke-width="1.9" rx="0.8"/>
<text x="921.30" y="328.60" font-size="15.8" text-anchor="start" textLength="198.70" lengthAdjust="spacingAndGlyphs" >no somatic SNV/indels/CNA</text>
<text x="921.30" y="348.60" font-size="15.8" text-anchor="start" textLength="120.00" lengthAdjust="spacingAndGlyphs" >detected in FFPE</text>
<polygon points="901.61,361.81 904.50,365.63 909.24,364.89 906.49,368.82 908.66,373.10 904.07,371.70 900.68,375.09 900.59,370.30 896.32,368.11 900.85,366.54" fill="#595959" stroke="#262626" stroke-width="0.9" stroke-linejoin="round"/>
<text x="921.30" y="373.90" font-size="15.8" text-anchor="start" textLength="277.40" lengthAdjust="spacingAndGlyphs" >radiological disease progression/death</text>
</g>
<g id="panelB">
<text x="0.40" y="457.00" font-size="37" text-anchor="start" font-weight="bold" textLength="23.20" lengthAdjust="spacingAndGlyphs" fill="#000" stroke="#000" stroke-width="0.9">b</text>
<rect x="52.5" y="434.5" width="206" height="53" fill="#fff" stroke="#1a1a1a" stroke-width="2"/>
<line x1="62.5" y1="450.5" x2="85.5" y2="450.6" stroke="#0000ff" stroke-width="4.5"/>
<polygon points="74.20,445.70 80.50,457.90 67.90,457.90" fill="#8888f4" stroke="#0000ff" stroke-width="2.6" stroke-linejoin="miter"/>
<line x1="62.5" y1="473.8" x2="85.5" y2="473.8" stroke="#ff6600" stroke-width="4.5"/>
<circle cx="74.20" cy="473.80" r="7.0" fill="#ffa040" stroke="#ff6600" stroke-width="2.7"/>
<text x="94.50" y="456.20" font-size="16.5" text-anchor="start" textLength="156.00" lengthAdjust="spacingAndGlyphs" >non-responder (n = 6)</text>
<text x="94.50" y="478.80" font-size="16.5" text-anchor="start" textLength="121.80" lengthAdjust="spacingAndGlyphs" >responder (n = 5)</text>
<path d="M118 522H124.3V549.5M124.3 566.5V820.2H530" fill="none" stroke="#000" stroke-width="2.6" stroke-linejoin="miter"/>
<path d="M118.8 547.3L130 556.3M118.8 561.3L130 570.2" stroke="#000" stroke-width="2.5" fill="none"/>
<line x1="118" y1="626.3" x2="124.3" y2="626.3" stroke="#000" stroke-width="2.5"/>
<line x1="118" y1="687.4" x2="124.3" y2="687.4" stroke="#000" stroke-width="2.5"/>
<line x1="118" y1="747.8" x2="124.3" y2="747.8" stroke="#000" stroke-width="2.5"/>
<line x1="118" y1="808.2" x2="124.3" y2="808.2" stroke="#000" stroke-width="2.5"/>
<line x1="175" y1="820" x2="175" y2="826" stroke="#000" stroke-width="2.4"/>
<line x1="275.8" y1="820" x2="275.8" y2="826" stroke="#000" stroke-width="2.4"/>
<line x1="376.8" y1="820" x2="376.8" y2="826" stroke="#000" stroke-width="2.4"/>
<line x1="478.2" y1="820" x2="478.2" y2="826" stroke="#000" stroke-width="2.4"/>
<text x="107.60" y="529.30" font-size="18.5" text-anchor="end" textLength="40.50" lengthAdjust="spacingAndGlyphs" >2000</text>
<text x="107.60" y="552.00" font-size="18.5" text-anchor="end" textLength="40.00" lengthAdjust="spacingAndGlyphs" >1000</text>
<text x="104.60" y="572.50" font-size="18.5" text-anchor="end" textLength="29.50" lengthAdjust="spacingAndGlyphs" >400</text>
<text x="107.60" y="633.50" font-size="18.5" text-anchor="end" textLength="29.50" lengthAdjust="spacingAndGlyphs" >300</text>
<text x="107.60" y="694.60" font-size="18.5" text-anchor="end" textLength="29.50" lengthAdjust="spacingAndGlyphs" >200</text>
<text x="107.60" y="755.00" font-size="18.5" text-anchor="end" textLength="29.50" lengthAdjust="spacingAndGlyphs" >100</text>
<text x="107.60" y="815.40" font-size="18.5" text-anchor="end" textLength="9.80" lengthAdjust="spacingAndGlyphs" >0</text>
<text x="52.30" y="677.50" font-size="18.5" text-anchor="middle" textLength="225.00" lengthAdjust="spacingAndGlyphs" transform="rotate(-90 52.30 677.50)" >ctDNA [hGE/ml plasma]</text>
<path d="M178 601.3V590.8H272.5V601.3" fill="none" stroke="#000" stroke-width="2.2"/>
<text x="195.5" y="579.5" font-size="16.5" textLength="57" lengthAdjust="spacingAndGlyphs"><tspan font-style="italic">P</tspan>=0.063</text>
<path d="M383 503.0V491.8H477.5V503.0" fill="none" stroke="#000" stroke-width="2.2"/>
<text x="400.5" y="480.8" font-size="16.5" textLength="57" lengthAdjust="spacingAndGlyphs"><tspan font-style="italic">P</tspan>=0.063</text>
<line x1="175" y1="637.4" x2="275.8" y2="769.1" stroke="#ff6600" stroke-width="2.5"/>
<line x1="175" y1="640.9" x2="275.8" y2="801.5" stroke="#ff6600" stroke-width="2.5"/>
<line x1="175" y1="743.3" x2="275.8" y2="800" stroke="#ff6600" stroke-width="2.5"/>
<line x1="175" y1="795.3" x2="275.8" y2="806" stroke="#ff6600" stroke-width="2.5"/>
<line x1="175" y1="798" x2="275.8" y2="808" stroke="#ff6600" stroke-width="2.5"/>
<circle cx="175.00" cy="637.40" r="7.2" fill="#ffa040" stroke="#ff6600" stroke-width="2.6"/>
<circle cx="175.00" cy="640.90" r="7.2" fill="#ffa040" stroke="#ff6600" stroke-width="2.6"/>
<circle cx="175.00" cy="743.30" r="7.2" fill="#ffa040" stroke="#ff6600" stroke-width="2.6"/>
<circle cx="175.00" cy="795.30" r="7.2" fill="#ffa040" stroke="#ff6600" stroke-width="2.6"/>
<circle cx="175.00" cy="798.00" r="7.2" fill="#ffa040" stroke="#ff6600" stroke-width="2.6"/>
<circle cx="275.80" cy="769.10" r="7.2" fill="#ffa040" stroke="#ff6600" stroke-width="2.6"/>
<circle cx="275.80" cy="801.50" r="7.2" fill="#ffa040" stroke="#ff6600" stroke-width="2.6"/>
<circle cx="275.80" cy="800.00" r="7.2" fill="#ffa040" stroke="#ff6600" stroke-width="2.6"/>
<circle cx="275.80" cy="806.00" r="7.2" fill="#ffa040" stroke="#ff6600" stroke-width="2.6"/>
<circle cx="275.80" cy="808.00" r="7.2" fill="#ffa040" stroke="#ff6600" stroke-width="2.6"/>
<line x1="377.30" y1="807.6" x2="465.79" y2="566.5" stroke="#0000ff" stroke-width="2.4"/>
<line x1="471.85" y1="550" x2="478.20" y2="532.7" stroke="#0000ff" stroke-width="2.4"/>
<line x1="377.3" y1="786.6" x2="478.2" y2="605.7" stroke="#0000ff" stroke-width="2.4"/>
<line x1="377.3" y1="786.6" x2="478.2" y2="692.7" stroke="#0000ff" stroke-width="2.4"/>
<line x1="377.3" y1="807.6" x2="478.2" y2="786.7" stroke="#0000ff" stroke-width="2.4"/>
<line x1="377.3" y1="807.6" x2="478.2" y2="798" stroke="#0000ff" stroke-width="2.4"/>
<line x1="377.3" y1="807.6" x2="478.2" y2="807.6" stroke="#0000ff" stroke-width="2.4"/>
<polygon points="377.30,801.60 383.05,813.60 371.55,813.60" fill="#8888f4" stroke="#0000ff" stroke-width="2.0" stroke-linejoin="miter"/>
<polygon points="377.30,780.60 383.05,792.60 371.55,792.60" fill="#8888f4" stroke="#0000ff" stroke-width="2.0" stroke-linejoin="miter"/>
<polygon points="377.30,780.60 383.05,792.60 371.55,792.60" fill="#8888f4" stroke="#0000ff" stroke-width="2.0" stroke-linejoin="miter"/>
<polygon points="377.30,801.60 383.05,813.60 371.55,813.60" fill="#8888f4" stroke="#0000ff" stroke-width="2.0" stroke-linejoin="miter"/>
<polygon points="377.30,801.60 383.05,813.60 371.55,813.60" fill="#8888f4" stroke="#0000ff" stroke-width="2.0" stroke-linejoin="miter"/>
<polygon points="377.30,801.60 383.05,813.60 371.55,813.60" fill="#8888f4" stroke="#0000ff" stroke-width="2.0" stroke-linejoin="miter"/>
<polygon points="478.20,526.70 483.95,538.70 472.45,538.70" fill="#8888f4" stroke="#0000ff" stroke-width="2.0" stroke-linejoin="miter"/>
<polygon points="478.20,599.70 483.95,611.70 472.45,611.70" fill="#8888f4" stroke="#0000ff" stroke-width="2.0" stroke-linejoin="miter"/>
<polygon points="478.20,686.70 483.95,698.70 472.45,698.70" fill="#8888f4" stroke="#0000ff" stroke-width="2.0" stroke-linejoin="miter"/>
<polygon points="478.20,780.70 483.95,792.70 472.45,792.70" fill="#8888f4" stroke="#0000ff" stroke-width="2.0" stroke-linejoin="miter"/>
<polygon points="478.20,792.00 483.95,804.00 472.45,804.00" fill="#8888f4" stroke="#0000ff" stroke-width="2.0" stroke-linejoin="miter"/>
<polygon points="478.20,801.60 483.95,813.60 472.45,813.60" fill="#8888f4" stroke="#0000ff" stroke-width="2.0" stroke-linejoin="miter"/>
<text x="187.5" y="844.0" font-size="18.5" text-anchor="end" textLength="68.5" lengthAdjust="spacingAndGlyphs" transform="rotate(-30 187.5 844.0)">Baseline</text>
<text x="286" y="842.3" font-size="18.5" text-anchor="end" textLength="105.5" lengthAdjust="spacingAndGlyphs" transform="rotate(-30 286 842.3)">1<tspan font-size="11" dy="-6.5">st</tspan><tspan dy="6.5"> Follow-up</tspan></text>
<text x="291.5" y="867.3" font-size="18.5" text-anchor="end" textLength="92" lengthAdjust="spacingAndGlyphs" transform="rotate(-30 291.5 867.3)">[3 months]</text>
<text x="389.3" y="847.0" font-size="18.5" text-anchor="end" textLength="71" lengthAdjust="spacingAndGlyphs" transform="rotate(-30 389.3 847.0)">Baseline</text>
<text x="488.5" y="845" font-size="18.5" text-anchor="end" textLength="108.5" lengthAdjust="spacingAndGlyphs" transform="rotate(-30 488.5 845)">1<tspan font-size="11" dy="-6.5">st</tspan><tspan dy="6.5"> Follow-up</tspan></text>
<text x="494" y="870.5" font-size="18.5" text-anchor="end" textLength="92.5" lengthAdjust="spacingAndGlyphs" transform="rotate(-30 494 870.5)">[3 months]</text>
</g>
<g id="panelC">
<text x="666.00" y="457.70" font-size="35.5" text-anchor="start" font-weight="bold" textLength="17.50" lengthAdjust="spacingAndGlyphs" fill="#000" stroke="#000" stroke-width="0.5">c</text>
<path d="M779.5 530.5H788.2V804.3H779.5" fill="none" stroke="#000" stroke-width="3.1"/>
<line x1="779.5" y1="570.5" x2="788.2" y2="570.5" stroke="#000" stroke-width="3"/>
<line x1="779.5" y1="609.4" x2="788.2" y2="609.4" stroke="#000" stroke-width="3"/>
<line x1="779.5" y1="648.3" x2="788.2" y2="648.3" stroke="#000" stroke-width="3"/>
<line x1="779.5" y1="687" x2="788.2" y2="687" stroke="#000" stroke-width="3"/>
<line x1="779.5" y1="726.2" x2="788.2" y2="726.2" stroke="#000" stroke-width="3"/>
<line x1="779.5" y1="765" x2="788.2" y2="765" stroke="#000" stroke-width="3"/>
<text x="775.20" y="538.00" font-size="18.5" text-anchor="end" textLength="40.60" lengthAdjust="spacingAndGlyphs" >1000</text>
<text x="775.20" y="576.40" font-size="18.5" text-anchor="end" textLength="30.40" lengthAdjust="spacingAndGlyphs" >100</text>
<text x="775.20" y="615.70" font-size="18.5" text-anchor="end" textLength="20.30" lengthAdjust="spacingAndGlyphs" >10</text>
<text x="775.20" y="654.50" font-size="18.5" text-anchor="end" textLength="10.00" lengthAdjust="spacingAndGlyphs" >1</text>
<text x="775.20" y="693.50" font-size="18.5" text-anchor="end" textLength="24.60" lengthAdjust="spacingAndGlyphs" >0.1</text>
<text x="775.20" y="732.30" font-size="18.5" text-anchor="end" textLength="34.80" lengthAdjust="spacingAndGlyphs" >0.01</text>
<text x="775.20" y="770.90" font-size="18.5" text-anchor="end" textLength="44.80" lengthAdjust="spacingAndGlyphs" >0.001</text>
<text x="775.20" y="809.40" font-size="18.5" text-anchor="end" textLength="54.60" lengthAdjust="spacingAndGlyphs" >0.0001</text>
<line x1="794.6" y1="648.2" x2="1197.5" y2="648.2" stroke="#000" stroke-width="3.2" stroke-dasharray="2.7 4.66"/>
<line x1="705.8" y1="548" x2="705.8" y2="652.5" stroke="#1a1a1a" stroke-width="1.4"/>
<text x="698.5" y="646" font-size="15.5" transform="rotate(-90 698.5 646)" textLength="88" lengthAdjust="spacingAndGlyphs">1<tspan font-size="10" dy="-5.5">st</tspan><tspan dy="5.5"> follow-up</tspan></text>
<text x="722.30" y="602.50" font-size="15.5" text-anchor="middle" textLength="58.50" lengthAdjust="spacingAndGlyphs" transform="rotate(-90 722.30 602.50)" >baseline</text>
<text x="712.50" y="714.30" font-size="18.5" text-anchor="middle" textLength="96.50" lengthAdjust="spacingAndGlyphs" transform="rotate(-90 712.50 714.30)" >ctDNA ratio</text>
<path d="M910.8 503V492H1081.3V503" fill="none" stroke="#000" stroke-width="2.2"/>
<text x="970" y="480.8" font-size="16.5" textLength="57.5" lengthAdjust="spacingAndGlyphs"><tspan font-style="italic">P</tspan>=0.009</text>
<path d="M875 668.7H933M904.3 668.7V782.2M875 782.2H933" fill="none" stroke="#ff6600" stroke-width="2.4"/>
<line x1="846.3" y1="686.9" x2="962.5" y2="686.9" stroke="#000" stroke-width="3.6"/>
<circle cx="883.8" cy="673" r="6.5" fill="#fdbd80" stroke="#ff6600" stroke-width="2.6"/>
<circle cx="914.3" cy="668.8" r="6.5" fill="#fdbd80" stroke="#ff6600" stroke-width="2.6"/>
<circle cx="893.8" cy="687" r="6.5" fill="#fdbd80" stroke="#ff6600" stroke-width="2.6"/>
<circle cx="914.3" cy="706.8" r="6.5" fill="#fdbd80" stroke="#ff6600" stroke-width="2.6"/>
<circle cx="904.3" cy="782" r="6.5" fill="#fdbd80" stroke="#ff6600" stroke-width="2.6"/>
<path d="M1050 543.3H1108M1078.8 543.3V670.5M1050 670.5H1108" fill="none" stroke="#0000d0" stroke-width="2.6"/>
<line x1="1021.3" y1="571.8" x2="1137.5" y2="571.8" stroke="#000" stroke-width="3.6"/>
<polygon points="1058.80,538.50 1064.45,550.20 1053.15,550.20" fill="#80b2f8" stroke="#0000d0" stroke-width="2.2"/>
<polygon points="1099.30,543.50 1104.95,555.20 1093.65,555.20" fill="#80b2f8" stroke="#0000d0" stroke-width="2.2"/>
<polygon points="1078.80,556.50 1084.45,568.20 1073.15,568.20" fill="#80b2f8" stroke="#0000d0" stroke-width="2.2"/>
<polygon points="1068.80,605.30 1074.45,617.00 1063.15,617.00" fill="#80b2f8" stroke="#0000d0" stroke-width="2.2"/>
<polygon points="1089.30,615.80 1094.95,627.50 1083.65,627.50" fill="#80b2f8" stroke="#0000d0" stroke-width="2.2"/>
<polygon points="1078.80,665.80 1084.45,677.50 1073.15,677.50" fill="#80b2f8" stroke="#0000d0" stroke-width="2.2"/>
<rect x="992" y="780.8" width="205.2" height="52.5" fill="#fff" stroke="#1a1a1a" stroke-width="2"/>
<line x1="1002" y1="797" x2="1024.5" y2="797" stroke="#0000ff" stroke-width="4.5"/>
<polygon points="1013.30,792.10 1019.60,804.30 1007.00,804.30" fill="#8888f4" stroke="#0000ff" stroke-width="2.6" stroke-linejoin="miter"/>
<line x1="1002" y1="819.5" x2="1024.5" y2="819.5" stroke="#ff6600" stroke-width="4.5"/>
<circle cx="1013.30" cy="819.50" r="7.0" fill="#ffa040" stroke="#ff6600" stroke-width="2.7"/>
<text x="1033.80" y="802.60" font-size="16.5" text-anchor="start" textLength="155.70" lengthAdjust="spacingAndGlyphs" >non-responder (n = 6)</text>
<text x="1033.80" y="825.10" font-size="16.5" text-anchor="start" textLength="121.70" lengthAdjust="spacingAndGlyphs" >responder (n = 5)</text>
</g>
<g id="panelD">
<text x="0.20" y="993.20" font-size="36.5" text-anchor="start" font-weight="bold" textLength="22.50" lengthAdjust="spacingAndGlyphs" fill="#000" stroke="#000" stroke-width="0.8">d</text>
<text x="521.00" y="1006.00" font-size="15.5" text-anchor="start" font-weight="bold" textLength="138.30" lengthAdjust="spacingAndGlyphs" fill="#000" >CheCUP Pat-ID: P1</text>
<line x1="200" y1="1080" x2="931" y2="1080" stroke="#c9c9c9" stroke-width="4.2"/>
<polygon points="929,1074.6 943.5,1080 929,1085.4" fill="#c9c9c9"/>
<circle cx="235" cy="1080" r="4.6" fill="#c9c9c9"/>
<circle cx="308.7" cy="1080" r="4.6" fill="#c9c9c9"/>
<circle cx="382.6" cy="1080" r="4.6" fill="#c9c9c9"/>
<circle cx="456.7" cy="1080" r="4.6" fill="#c9c9c9"/>
<circle cx="530.5" cy="1080" r="4.6" fill="#c9c9c9"/>
<circle cx="604.3" cy="1080" r="4.6" fill="#c9c9c9"/>
<circle cx="678.7" cy="1080" r="4.6" fill="#c9c9c9"/>
<circle cx="752" cy="1080" r="4.6" fill="#c9c9c9"/>
<circle cx="826.3" cy="1080" r="4.6" fill="#c9c9c9"/>
<circle cx="900" cy="1080" r="4.6" fill="#c9c9c9"/>
<text x="222.5" y="1040" font-size="9.3" textLength="44.3" lengthAdjust="spacingAndGlyphs">1<tspan font-size="6" dy="-3.5">st</tspan><tspan dy="3.5"> ICI cycle</tspan></text>
<path d="M244.5 1043.6V1050" stroke="#111" stroke-width="1.6" fill="none"/><polygon points="241.9,1048.8 247.1,1048.8 244.5,1054" fill="#111"/>
<text x="296.3" y="1040" font-size="9.3" textLength="45.7" lengthAdjust="spacingAndGlyphs">3<tspan font-size="6" dy="-3.5">rd</tspan><tspan dy="3.5"> ICI cycle</tspan></text>
<path d="M319.5 1043.6V1050" stroke="#111" stroke-width="1.6" fill="none"/><polygon points="316.9,1048.8 322.1,1048.8 319.5,1054" fill="#111"/>
<text x="371.3" y="1040" font-size="9.3" textLength="45.0" lengthAdjust="spacingAndGlyphs">5<tspan font-size="6" dy="-3.5">th</tspan><tspan dy="3.5"> ICI cycle</tspan></text>
<path d="M394.3 1043.6V1050" stroke="#111" stroke-width="1.6" fill="none"/><polygon points="391.7,1048.8 396.90000000000003,1048.8 394.3,1054" fill="#111"/>
<text x="445.5" y="1040" font-size="9.3" textLength="45.3" lengthAdjust="spacingAndGlyphs">7<tspan font-size="6" dy="-3.5">th</tspan><tspan dy="3.5"> ICI cycle</tspan></text>
<path d="M468.8 1043.6V1050" stroke="#111" stroke-width="1.6" fill="none"/><polygon points="466.2,1048.8 471.40000000000003,1048.8 468.8,1054" fill="#111"/>
<text x="520" y="1040" font-size="9.3" textLength="45.0" lengthAdjust="spacingAndGlyphs">9<tspan font-size="6" dy="-3.5">th</tspan><tspan dy="3.5"> ICI cycle</tspan></text>
<path d="M543.3 1043.6V1050" stroke="#111" stroke-width="1.6" fill="none"/><polygon points="540.6999999999999,1048.8 545.9,1048.8 543.3,1054" fill="#111"/>
<text x="593" y="1040" font-size="9.3" textLength="49.0" lengthAdjust="spacingAndGlyphs">11<tspan font-size="6" dy="-3.5">th</tspan><tspan dy="3.5"> ICI cycle</tspan></text>
<path d="M618 1043.6V1050" stroke="#111" stroke-width="1.6" fill="none"/><polygon points="615.4,1048.8 620.6,1048.8 618,1054" fill="#111"/>
<text x="661.8" y="1040" font-size="9.3" textLength="49.5" lengthAdjust="spacingAndGlyphs">13<tspan font-size="6" dy="-3.5">th</tspan><tspan dy="3.5"> ICI cycle</tspan></text>
<path d="M687 1043.6V1050" stroke="#111" stroke-width="1.6" fill="none"/><polygon points="684.4,1048.8 689.6,1048.8 687,1054" fill="#111"/>
<text x="737" y="1040" font-size="9.3" textLength="50.0" lengthAdjust="spacingAndGlyphs">15<tspan font-size="6" dy="-3.5">th</tspan><tspan dy="3.5"> ICI cycle</tspan></text>
<path d="M762 1043.6V1050" stroke="#111" stroke-width="1.6" fill="none"/><polygon points="759.4,1048.8 764.6,1048.8 762,1054" fill="#111"/>
<text x="813.8" y="1040" font-size="9.3" textLength="49.5" lengthAdjust="spacingAndGlyphs">17<tspan font-size="6" dy="-3.5">th</tspan><tspan dy="3.5"> ICI cycle</tspan></text>
<path d="M838.8 1043.6V1050" stroke="#111" stroke-width="1.6" fill="none"/><polygon points="836.1999999999999,1048.8 841.4,1048.8 838.8,1054" fill="#111"/>
<text x="883.8" y="1040" font-size="9.3" textLength="50.0" lengthAdjust="spacingAndGlyphs">19<tspan font-size="6" dy="-3.5">th</tspan><tspan dy="3.5"> ICI cycle</tspan></text>
<path d="M908.8 1043.6V1050" stroke="#111" stroke-width="1.6" fill="none"/><polygon points="906.1999999999999,1048.8 911.4,1048.8 908.8,1054" fill="#111"/>
<text x="235.00" y="1099.90" font-size="13.8" text-anchor="middle" textLength="7.20" lengthAdjust="spacingAndGlyphs" >0</text>
<text x="308.90" y="1071.80" font-size="13.8" text-anchor="middle" textLength="16.30" lengthAdjust="spacingAndGlyphs" >SD</text>
<text x="308.70" y="1099.90" font-size="13.8" text-anchor="middle" textLength="7.20" lengthAdjust="spacingAndGlyphs" >3</text>
<text x="382.80" y="1071.80" font-size="13.8" text-anchor="middle" textLength="16.30" lengthAdjust="spacingAndGlyphs" >SD</text>
<text x="382.60" y="1099.90" font-size="13.8" text-anchor="middle" textLength="7.20" lengthAdjust="spacingAndGlyphs" >6</text>
<text x="456.90" y="1071.80" font-size="13.8" text-anchor="middle" textLength="16.30" lengthAdjust="spacingAndGlyphs" >SD</text>
<text x="456.70" y="1099.90" font-size="13.8" text-anchor="middle" textLength="7.20" lengthAdjust="spacingAndGlyphs" >9</text>
<text x="530.70" y="1071.80" font-size="13.8" text-anchor="middle" textLength="15.00" lengthAdjust="spacingAndGlyphs" >PR</text>
<text x="530.50" y="1099.90" font-size="13.8" text-anchor="middle" textLength="14.40" lengthAdjust="spacingAndGlyphs" >12</text>
<text x="604.50" y="1071.80" font-size="13.8" text-anchor="middle" textLength="15.00" lengthAdjust="spacingAndGlyphs" >PR</text>
<text x="604.30" y="1099.90" font-size="13.8" text-anchor="middle" textLength="14.40" lengthAdjust="spacingAndGlyphs" >15</text>
<text x="678.90" y="1071.80" font-size="13.8" text-anchor="middle" textLength="15.00" lengthAdjust="spacingAndGlyphs" >PR</text>
<text x="678.70" y="1099.90" font-size="13.8" text-anchor="middle" textLength="14.40" lengthAdjust="spacingAndGlyphs" >18</text>
<text x="752.20" y="1071.80" font-size="13.8" text-anchor="middle" textLength="15.00" lengthAdjust="spacingAndGlyphs" >PR</text>
<text x="752.00" y="1099.90" font-size="13.8" text-anchor="middle" textLength="14.40" lengthAdjust="spacingAndGlyphs" >21</text>
<text x="826.50" y="1071.80" font-size="13.8" text-anchor="middle" textLength="16.30" lengthAdjust="spacingAndGlyphs" >CR</text>
<text x="826.30" y="1099.90" font-size="13.8" text-anchor="middle" textLength="14.40" lengthAdjust="spacingAndGlyphs" >24</text>
<text x="900.20" y="1071.80" font-size="13.8" text-anchor="middle" textLength="16.30" lengthAdjust="spacingAndGlyphs" >CR</text>
<text x="900.00" y="1099.90" font-size="13.8" text-anchor="middle" textLength="14.40" lengthAdjust="spacingAndGlyphs" >27</text>
<text x="159.30" y="1098.20" font-size="13.8" text-anchor="start" textLength="40.00" lengthAdjust="spacingAndGlyphs" >Month</text>
<text x="945.00" y="1040.70" font-size="13.8" text-anchor="start" textLength="62.50" lengthAdjust="spacingAndGlyphs" >Treatment</text>
<text x="946.30" y="1068.00" font-size="13.8" text-anchor="start" textLength="61.80" lengthAdjust="spacingAndGlyphs" >Remission</text>
<text x="958.80" y="1080.70" font-size="13.8" text-anchor="start" textLength="36.20" lengthAdjust="spacingAndGlyphs" >status</text>
<text x="981.00" y="1140.00" font-size="13.8" text-anchor="middle" textLength="32.00" lengthAdjust="spacingAndGlyphs" >CT of</text>
<text x="981.50" y="1157.80" font-size="13.8" text-anchor="middle" textLength="76.00" lengthAdjust="spacingAndGlyphs" >target lesion</text>
<text x="981.00" y="1175.30" font-size="13.8" text-anchor="middle" textLength="74.30" lengthAdjust="spacingAndGlyphs" >(RECISTv1.1)</text>
<rect x="159.8" y="1114.7" width="33.6" height="76.3" fill="#fff" stroke="#1a1a1a" stroke-width="1.6"/>
<text x="174.20" y="1152.80" font-size="11.3" text-anchor="middle" textLength="66.00" lengthAdjust="spacingAndGlyphs" transform="rotate(-90 174.20 1152.80)" >Bone vertebra</text>
<text x="187.50" y="1152.80" font-size="11.3" text-anchor="middle" textLength="30.00" lengthAdjust="spacingAndGlyphs" transform="rotate(-90 187.50 1152.80)" >lesion</text>
<defs>
<filter id="ctblur" x="-5%" y="-5%" width="110%" height="110%"><feGaussianBlur stdDeviation="0.95"/></filter>
<filter id="ctnoise" x="0" y="0" width="100%" height="100%">
<feTurbulence type="fractalNoise" baseFrequency="0.85" numOctaves="2" seed="3" result="n"/>
<feColorMatrix in="n" type="matrix" values="0 0 0 0 1  0 0 0 0 1  0 0 0 0 1  2.2 0 0 0 -0.95"/>
</filter>
<filter id="ctnoised" x="0" y="0" width="100%" height="100%">
<feTurbulence type="fractalNoise" baseFrequency="0.8" numOctaves="2" seed="11" result="n"/>
<feColorMatrix in="n" type="matrix" values="0 0 0 0 0  0 0 0 0 0  0 0 0 0 0  0 2.2 0 0 -0.95"/>
</filter>
<filter id="ctorg" x="0" y="0" width="100%" height="100%">
<feTurbulence type="fractalNoise" baseFrequency="0.16" numOctaves="3" seed="7" result="n"/>
<feColorMatrix in="n" type="matrix" values="0 0 0 0 0  0 0 0 0 0  0 0 0 0 0  0 0 2.6 0 -0.95"/>
</filter>
<filter id="ctorgw" x="0" y="0" width="100%" height="100%">
<feTurbulence type="fractalNoise" baseFrequency="0.2" numOctaves="3" seed="21" result="n"/>
<feColorMatrix in="n" type="matrix" values="0 0 0 0 1  0 0 0 0 1  0 0 0 0 1  0 2.6 0 0 -1.05"/>
</filter>
<clipPath id="ctclip"><rect x="0" y="0" width="72" height="77"/></clipPath>
<g id="ctAs">
  <rect x="-2" y="-2" width="76" height="22" fill="#3d3d3d"/>
  <path d="M-2 18 L74 14 V60 H-2Z" fill="#7c7c7c"/>
  <path d="M28 14 Q36 4 50 3 L58 5 Q54 14 50 22 Q40 28 32 26Z" fill="#303030"/>
  <path d="M-2 44 Q14 57 34 60 L74 61 V80 H-2Z" fill="#1d1d1d"/>
  <path d="M-2 35 Q14 49 34 54 L74 56 V61 L34 60 Q12 57 -2 45Z" fill="#575757"/>
  <path d="M-2 2 L4 3 L13 12 L17 44 L14 47 L-2 27Z" fill="#f4f4f4"/>
  <path d="M3 11 L9 16 L11 33 L4 25Z" fill="#a8a8a8"/>
  <path d="M14.5 13 L15.6 45" stroke="#2a2a2a" stroke-width="1" fill="none"/>
  <path d="M16 12 L38 17 L36 26 L30 31 L24 39 L19 44Z" fill="#e4e4e4"/>
  <path d="M20 18 L31 20 L28 28 L22 34Z" fill="#777"/>
  <path d="M38 24 Q50 16 58 27 Q62 40 52 45 Q42 47 37 38Z" fill="#fafafa"/>
  <path d="M36 40 L56 42 L64 52 L60 58 L40 58 L32 50Z" fill="#b9b9b9"/>
  <path d="M40 49 q4 -3 9 0 l0 7 q-5 3 -9 0Z M52 48 q5 -3 10 1 l-1 6 q-5 3 -10 -1Z" fill="#fcfcfc"/>
  <path d="M48 50 v9" stroke="#333" stroke-width="1.2"/>
  <path d="M62 15 Q70 12 74 15 V30 Q66 31 63 24Z" fill="#f2f2f2"/>
  <circle cx="63.5" cy="29" r="4.2" fill="#bdbdbd"/><circle cx="63.5" cy="29" r="2.8" fill="#262626"/>
  <circle cx="61" cy="46" r="3.8" fill="#b5b5b5"/><circle cx="61" cy="46" r="2.5" fill="#2e2e2e"/>
  <circle cx="22" cy="6" r="3" fill="#a5a5a5"/><circle cx="34" cy="3" r="5" fill="#b2b2b2"/><circle cx="69" cy="2" r="3.5" fill="#c0c0c0"/>
  <circle cx="12" cy="3" r="2.5" fill="#777"/>
</g>
<g id="ctA">
 <rect x="0" y="0" width="72" height="77" fill="#2b2b2b"/>
 <g clip-path="url(#ctclip)"><use href="#ctAs" filter="url(#ctblur)"/><use href="#ctAs" opacity="0.45"/>
 <rect x="0" y="0" width="72" height="77" filter="url(#ctorg)" opacity="0.26"/>
 <rect x="0" y="0" width="72" height="77" filter="url(#ctorgw)" opacity="0.18"/>
 <path d="M-2 45 Q14 58 34 61 L74 61.5 V80 H-2Z" fill="#1d1d1d" filter="url(#ctblur)"/>
 <rect x="0" y="0" width="72" height="77" filter="url(#ctnoise)" opacity="0.2"/>
 <rect x="0" y="0" width="72" height="77" filter="url(#ctnoised)" opacity="0.18"/>
 </g>
</g>
<g id="ctBs">
  <rect x="-2" y="-2" width="76" height="18" fill="#303030"/>
  <path d="M-2 14 L74 12 V60 H-2Z" fill="#7a7a7a"/>
  <path d="M-2 44 Q14 57 34 60 L74 60 V80 H-2Z" fill="#1c1c1c"/>
  <path d="M-2 34 Q14 50 34 55 L74 56 V60.5 L34 60 Q12 57 -2 45Z" fill="#5a5a5a"/>
  <path d="M-2 6 L5 9 L20 49 L17 53 L12 50 L-2 26Z" fill="#f4f4f4"/>
  <path d="M3 14 L13 40 L12 46 L2 24Z" fill="#adadad"/>
  <path d="M14 14 L21 50" stroke="#222" stroke-width="1.1" fill="none"/>
  <path d="M16 14 L40 17 L56 11 L74 14 V25 L56 27 L42 31 L34 29 L29 38 L25 49 L21 46Z" fill="#f6f6f6"/>
  <path d="M20 19 L33 19 L33 30 L23 34Z" fill="#5c5c5c"/>
  <circle cx="37.5" cy="30" r="4.2" fill="#c8c8c8"/><circle cx="37.5" cy="30" r="2.7" fill="#2c2c2c"/>
  <circle cx="62.5" cy="30" r="4.6" fill="#c8c8c8"/><circle cx="62.5" cy="30" r="3" fill="#2c2c2c"/>
  <ellipse cx="50" cy="34" rx="7" ry="6" fill="#a2a2a2"/>
  <path d="M38 36 L62 36 L68 48 L62 57 L38 57 L32 47Z" fill="#b4b4b4"/>
  <circle cx="42.5" cy="44" r="2.6" fill="#3a3a3a"/><circle cx="56.5" cy="44" r="2.6" fill="#3a3a3a"/>
  <path d="M37 49 q6 -3 11 0 l1 7 q-6 3 -11 0Z M51 49 q8 -4 15 0 l-2 7 q-7 3 -14 1Z" fill="#fdfdfd"/>
  <path d="M49.5 48 v10" stroke="#2a2a2a" stroke-width="1.4"/>
  <ellipse cx="30" cy="5" rx="9" ry="3.5" fill="#bdbdbd"/><circle cx="69" cy="3" r="3" fill="#dcdcdc"/>
  <path d="M55 -2 L60 12" stroke="#ddd" stroke-width="1.2"/>
</g>
<g id="ctB">
 <rect x="0" y="0" width="72" height="77" fill="#262626"/>
 <g clip-path="url(#ctclip)"><use href="#ctBs" filter="url(#ctblur)"/><use href="#ctBs" opacity="0.45"/>
 <rect x="0" y="0" width="72" height="77" filter="url(#ctorg)" opacity="0.26"/>
 <rect x="0" y="0" width="72" height="77" filter="url(#ctorgw)" opacity="0.18"/>
 <path d="M-2 45 Q14 58 34 61 L74 61.5 V80 H-2Z" fill="#1d1d1d" filter="url(#ctblur)"/>
 <rect x="0" y="0" width="72" height="77" filter="url(#ctnoise)" opacity="0.18"/>
 <rect x="0" y="0" width="72" height="77" filter="url(#ctnoised)" opacity="0.18"/>
 </g>
</g>
</defs>
<use href="#ctA" transform="translate(196.7,1115) scale(0.9944,0.9974)"/>
<g transform="rotate(0 230 1154.3)"><ellipse cx="230" cy="1154.3" rx="13" ry="8.7" fill="#d4348f" opacity="0.95"/><path d="M217.8 1155.1L242.2 1153.7M230.6 1146.1999999999998L229.6 1162.4" stroke="#f01a5a" stroke-width="0.9" fill="none"/></g>
<use href="#ctA" transform="translate(271,1115) scale(0.9944,0.9974)"/>
<g transform="rotate(0 303.3 1154.3)"><ellipse cx="303.3" cy="1154.3" rx="10.4" ry="7.6" fill="#d4348f" opacity="0.95"/><path d="M293.70000000000005 1155.1L312.9 1153.7M303.90000000000003 1147.3L302.90000000000003 1161.3" stroke="#f01a5a" stroke-width="0.9" fill="none"/></g>
<use href="#ctA" transform="translate(345,1115) scale(0.9944,0.9974)"/>
<g transform="rotate(0 377 1154.5)"><ellipse cx="377" cy="1154.5" rx="10.6" ry="7.4" fill="#d4348f" opacity="0.95"/><path d="M367.2 1155.3L386.8 1153.9M377.6 1147.6999999999998L376.6 1161.3000000000002" stroke="#f01a5a" stroke-width="0.9" fill="none"/></g>
<use href="#ctA" transform="translate(419.3,1115) scale(0.9944,0.9974)"/>
<g transform="rotate(-12 452.7 1154)"><ellipse cx="452.7" cy="1154" rx="11" ry="7.3" fill="#d4348f" opacity="0.95"/><path d="M442.5 1154.8L462.9 1153.4M453.3 1147.3L452.3 1160.7" stroke="#f01a5a" stroke-width="0.9" fill="none"/></g>
<use href="#ctB" transform="translate(494,1115) scale(0.9944,0.9974)"/>
<g transform="rotate(0 526.7 1153.3)"><ellipse cx="526.7" cy="1153.3" rx="6.6" ry="6.2" fill="#d4348f" opacity="0.95"/><path d="M520.9 1154.1L532.5000000000001 1152.7M527.3000000000001 1147.6999999999998L526.3000000000001 1158.9" stroke="#f01a5a" stroke-width="0.9" fill="none"/></g>
<use href="#ctB" transform="translate(568.3,1115) scale(0.9944,0.9974)"/>
<g transform="rotate(0 601.7 1152.7)"><ellipse cx="601.7" cy="1152.7" rx="5.0" ry="5.8" fill="#d4348f" opacity="0.95"/><path d="M597.5 1153.5L605.9000000000001 1152.1000000000001M602.3000000000001 1147.5L601.3000000000001 1157.9" stroke="#f01a5a" stroke-width="0.9" fill="none"/></g>
<use href="#ctB" transform="translate(642.7,1115) scale(0.9944,0.9974)"/>
<g transform="rotate(0 676 1152.7)"><ellipse cx="676" cy="1152.7" rx="5.0" ry="5.8" fill="#d4348f" opacity="0.95"/><path d="M671.8 1153.5L680.2 1152.1000000000001M676.6 1147.5L675.6 1157.9" stroke="#f01a5a" stroke-width="0.9" fill="none"/></g>
<use href="#ctB" transform="translate(716.8,1115) scale(1.0042,1.0078)"/>
<g transform="rotate(0 756.7 1163.3)"><ellipse cx="756.7" cy="1163.3" rx="4.4" ry="5.8" fill="#d4348f" opacity="0.95"/><path d="M753.1 1164.1L760.3000000000001 1162.7M757.3000000000001 1158.1L756.3000000000001 1168.5" stroke="#f01a5a" stroke-width="0.9" fill="none"/></g>
<use href="#ctB" transform="translate(791.5,1115) scale(0.9944,0.9974)"/>
<use href="#ctB" transform="translate(865.8,1115) scale(0.9944,0.9974)"/>
<text x="151.40" y="1226.30" font-size="13.8" text-anchor="end" textLength="14.20" lengthAdjust="spacingAndGlyphs" >25</text>
<text x="982.60" y="1224.60" font-size="13.8" text-anchor="start" textLength="14.40" lengthAdjust="spacingAndGlyphs" >50</text>
<text x="151.40" y="1273.00" font-size="13.8" text-anchor="end" textLength="14.20" lengthAdjust="spacingAndGlyphs" >20</text>
<text x="982.60" y="1271.30" font-size="13.8" text-anchor="start" textLength="14.40" lengthAdjust="spacingAndGlyphs" >40</text>
<text x="151.40" y="1319.70" font-size="13.8" text-anchor="end" textLength="14.20" lengthAdjust="spacingAndGlyphs" >15</text>
<text x="982.60" y="1318.00" font-size="13.8" text-anchor="start" textLength="14.40" lengthAdjust="spacingAndGlyphs" >30</text>
<text x="151.40" y="1366.30" font-size="13.8" text-anchor="end" textLength="14.20" lengthAdjust="spacingAndGlyphs" >10</text>
<text x="982.60" y="1364.60" font-size="13.8" text-anchor="start" textLength="14.40" lengthAdjust="spacingAndGlyphs" >20</text>
<text x="151.40" y="1413.00" font-size="13.8" text-anchor="end" textLength="7.10" lengthAdjust="spacingAndGlyphs" >5</text>
<text x="982.60" y="1411.30" font-size="13.8" text-anchor="start" textLength="14.40" lengthAdjust="spacingAndGlyphs" >10</text>
<text x="151.40" y="1459.60" font-size="13.8" text-anchor="end" textLength="7.10" lengthAdjust="spacingAndGlyphs" >0</text>
<text x="982.60" y="1457.90" font-size="13.8" text-anchor="start" textLength="7.20" lengthAdjust="spacingAndGlyphs" >0</text>
<line x1="233.4" y1="1454" x2="233.4" y2="1458.3" stroke="#000" stroke-width="2.5"/>
<text x="232.90" y="1476.00" font-size="13.8" text-anchor="middle" textLength="7.20" lengthAdjust="spacingAndGlyphs" >0</text>
<line x1="307.4" y1="1454" x2="307.4" y2="1458.3" stroke="#000" stroke-width="2.5"/>
<text x="306.90" y="1476.00" font-size="13.8" text-anchor="middle" textLength="7.20" lengthAdjust="spacingAndGlyphs" >3</text>
<line x1="381.4" y1="1454" x2="381.4" y2="1458.3" stroke="#000" stroke-width="2.5"/>
<text x="380.90" y="1476.00" font-size="13.8" text-anchor="middle" textLength="7.20" lengthAdjust="spacingAndGlyphs" >6</text>
<line x1="455.4" y1="1454" x2="455.4" y2="1458.3" stroke="#000" stroke-width="2.5"/>
<text x="454.90" y="1476.00" font-size="13.8" text-anchor="middle" textLength="7.20" lengthAdjust="spacingAndGlyphs" >9</text>
<line x1="529.4" y1="1454" x2="529.4" y2="1458.3" stroke="#000" stroke-width="2.5"/>
<text x="528.90" y="1476.00" font-size="13.8" text-anchor="middle" textLength="14.40" lengthAdjust="spacingAndGlyphs" >12</text>
<line x1="603.4" y1="1454" x2="603.4" y2="1458.3" stroke="#000" stroke-width="2.5"/>
<text x="602.90" y="1476.00" font-size="13.8" text-anchor="middle" textLength="14.40" lengthAdjust="spacingAndGlyphs" >15</text>
<line x1="677.4" y1="1454" x2="677.4" y2="1458.3" stroke="#000" stroke-width="2.5"/>
<text x="676.90" y="1476.00" font-size="13.8" text-anchor="middle" textLength="14.40" lengthAdjust="spacingAndGlyphs" >18</text>
<line x1="751.4" y1="1454" x2="751.4" y2="1458.3" stroke="#000" stroke-width="2.5"/>
<text x="750.90" y="1476.00" font-size="13.8" text-anchor="middle" textLength="14.40" lengthAdjust="spacingAndGlyphs" >21</text>
<line x1="825.4" y1="1454" x2="825.4" y2="1458.3" stroke="#000" stroke-width="2.5"/>
<text x="824.90" y="1476.00" font-size="13.8" text-anchor="middle" textLength="14.40" lengthAdjust="spacingAndGlyphs" >24</text>
<line x1="899.4" y1="1454" x2="899.4" y2="1458.3" stroke="#000" stroke-width="2.5"/>
<text x="898.90" y="1476.00" font-size="13.8" text-anchor="middle" textLength="14.40" lengthAdjust="spacingAndGlyphs" >27</text>
<text x="127.20" y="1335.80" font-size="15" text-anchor="middle" textLength="168.50" lengthAdjust="spacingAndGlyphs" transform="rotate(-90 127.20 1335.80)" >ctDNA [hGE/ml plasma]</text>
<text x="1013.00" y="1337.20" font-size="15" text-anchor="middle" textLength="260.70" lengthAdjust="spacingAndGlyphs" transform="rotate(90 1013.00 1337.20)" >Sum of target lesion diameters [mm]</text>
<text x="515.00" y="1497.70" font-size="15.5" text-anchor="start" textLength="104.30" lengthAdjust="spacingAndGlyphs" >Time [months]</text>
<polyline points="233.4,1276 307.4,1314 381.4,1300 455.4,1317.3 529.4,1385 603.4,1382.7 677.4,1382.7 751.4,1389 825.4,1455 899.4,1455" fill="none" stroke="#c000c4" stroke-width="3.2" stroke-dasharray="11 5.5"/>
<polygon points="233.40,1270.79 237.90,1279.19 228.90,1279.19" fill="#f6d8f6" stroke="#c000c4" stroke-width="2.5"/>
<polygon points="307.40,1308.79 311.90,1317.19 302.90,1317.19" fill="#f6d8f6" stroke="#c000c4" stroke-width="2.5"/>
<polygon points="381.40,1294.79 385.90,1303.19 376.90,1303.19" fill="#f6d8f6" stroke="#c000c4" stroke-width="2.5"/>
<polygon points="455.40,1312.09 459.90,1320.49 450.90,1320.49" fill="#f6d8f6" stroke="#c000c4" stroke-width="2.5"/>
<polygon points="529.40,1379.79 533.90,1388.19 524.90,1388.19" fill="#f6d8f6" stroke="#c000c4" stroke-width="2.5"/>
<polygon points="603.40,1377.49 607.90,1385.89 598.90,1385.89" fill="#f6d8f6" stroke="#c000c4" stroke-width="2.5"/>
<polygon points="677.40,1377.49 681.90,1385.89 672.90,1385.89" fill="#f6d8f6" stroke="#c000c4" stroke-width="2.5"/>
<polygon points="751.40,1383.79 755.90,1392.19 746.90,1392.19" fill="#f6d8f6" stroke="#c000c4" stroke-width="2.5"/>
<polygon points="825.40,1449.79 829.90,1458.19 820.90,1458.19" fill="#f6d8f6" stroke="#c000c4" stroke-width="2.5"/>
<polygon points="899.40,1449.79 903.90,1458.19 894.90,1458.19" fill="#f6d8f6" stroke="#c000c4" stroke-width="2.5"/>
<path d="M159.8 1219.4V1458.3M158.4 1453.6H975.3M973.9 1219.4V1458" fill="none" stroke="#000" stroke-width="2.9"/>
<path d="M155.2 1220.7H159.8M973.9 1220.7H978.8" stroke="#000" stroke-width="2.7" fill="none"/>
<path d="M155.2 1267.4H159.8M973.9 1267.4H978.8" stroke="#000" stroke-width="2.7" fill="none"/>
<path d="M155.2 1314.1H159.8M973.9 1314.1H978.8" stroke="#000" stroke-width="2.7" fill="none"/>
<path d="M155.2 1360.7H159.8M973.9 1360.7H978.8" stroke="#000" stroke-width="2.7" fill="none"/>
<path d="M155.2 1407.4H159.8M973.9 1407.4H978.8" stroke="#000" stroke-width="2.7" fill="none"/>
<path d="M155.2 1454.0H159.8M973.9 1454.0H978.8" stroke="#000" stroke-width="2.7" fill="none"/>
<polyline points="233.4,1264 307.4,1447.7 381.4,1447.7 455.4,1449.3 529.4,1447.7 603.4,1452.3 677.4,1445.7 751.4,1449 825.4,1448.3 899.4,1444.3" fill="none" stroke="#0000b4" stroke-width="2.5"/>
<circle cx="233.4" cy="1264" r="4.8" fill="#8c8cf4" stroke="#0000b4" stroke-width="2.4"/>
<circle cx="307.4" cy="1447.7" r="4.8" fill="#8c8cf4" stroke="#0000b4" stroke-width="2.4"/>
<circle cx="381.4" cy="1447.7" r="4.8" fill="#8c8cf4" stroke="#0000b4" stroke-width="2.4"/>
<circle cx="455.4" cy="1449.3" r="4.8" fill="#8c8cf4" stroke="#0000b4" stroke-width="2.4"/>
<circle cx="529.4" cy="1447.7" r="4.8" fill="#8c8cf4" stroke="#0000b4" stroke-width="2.4"/>
<circle cx="603.4" cy="1452.3" r="4.8" fill="#8c8cf4" stroke="#0000b4" stroke-width="2.4"/>
<circle cx="677.4" cy="1445.7" r="4.8" fill="#8c8cf4" stroke="#0000b4" stroke-width="2.4"/>
<circle cx="751.4" cy="1449" r="4.8" fill="#8c8cf4" stroke="#0000b4" stroke-width="2.4"/>
<circle cx="825.4" cy="1448.3" r="4.8" fill="#8c8cf4" stroke="#0000b4" stroke-width="2.4"/>
<circle cx="899.4" cy="1444.3" r="4.8" fill="#8c8cf4" stroke="#0000b4" stroke-width="2.4"/>
<rect x="563.5" y="1237.2" width="153.7" height="44.5" fill="#fff" stroke="#1a1a1a" stroke-width="2"/>
<line x1="569.2" y1="1252.9" x2="583.6" y2="1252.9" stroke="#c000c4" stroke-width="3"/>
<polygon points="576.40,1250.73 579.20,1256.33 573.60,1256.33" fill="#f6d8f6" stroke="#c000c4" stroke-width="2"/>
<line x1="569.6" y1="1268.5" x2="583.4" y2="1268.5" stroke="#0000cc" stroke-width="3"/>
<circle cx="576.4" cy="1268.5" r="3.3" fill="#9090f4" stroke="#0000cc" stroke-width="2.1"/>
<text x="589.50" y="1256.20" font-size="13.6" text-anchor="start" textLength="122.40" lengthAdjust="spacingAndGlyphs" >Sum of target lesion</text>
<text x="589.50" y="1270.90" font-size="13.6" text-anchor="start" textLength="39.00" lengthAdjust="spacingAndGlyphs" >ctDNA</text>
<path d="M211.5 1504.4V1707.5M207.9 1706.1H921.2" fill="none" stroke="#000" stroke-width="2.9"/>
<line x1="207.9" y1="1505.7" x2="211.5" y2="1505.7" stroke="#000" stroke-width="2.7"/>
<text x="202.40" y="1510.20" font-size="13.8" text-anchor="end" textLength="7.10" lengthAdjust="spacingAndGlyphs" >3</text>
<line x1="207.9" y1="1572.7" x2="211.5" y2="1572.7" stroke="#000" stroke-width="2.7"/>
<text x="202.40" y="1577.20" font-size="13.8" text-anchor="end" textLength="7.10" lengthAdjust="spacingAndGlyphs" >2</text>
<line x1="207.9" y1="1639.5" x2="211.5" y2="1639.5" stroke="#000" stroke-width="2.7"/>
<text x="202.40" y="1644.00" font-size="13.8" text-anchor="end" textLength="7.10" lengthAdjust="spacingAndGlyphs" >1</text>
<line x1="207.9" y1="1706.6" x2="211.5" y2="1706.6" stroke="#000" stroke-width="2.7"/>
<text x="202.40" y="1709.30" font-size="13.8" text-anchor="end" textLength="7.10" lengthAdjust="spacingAndGlyphs" >0</text>
<line x1="235.4" y1="1706.6" x2="235.4" y2="1710.7" stroke="#000" stroke-width="2.5"/>
<text x="234.60" y="1727.80" font-size="13.8" text-anchor="middle" textLength="7.20" lengthAdjust="spacingAndGlyphs" >0</text>
<line x1="308.8" y1="1706.6" x2="308.8" y2="1710.7" stroke="#000" stroke-width="2.5"/>
<text x="308.00" y="1727.80" font-size="13.8" text-anchor="middle" textLength="7.20" lengthAdjust="spacingAndGlyphs" >3</text>
<line x1="382.2" y1="1706.6" x2="382.2" y2="1710.7" stroke="#000" stroke-width="2.5"/>
<text x="381.40" y="1727.80" font-size="13.8" text-anchor="middle" textLength="7.20" lengthAdjust="spacingAndGlyphs" >6</text>
<line x1="455.6" y1="1706.6" x2="455.6" y2="1710.7" stroke="#000" stroke-width="2.5"/>
<text x="454.80" y="1727.80" font-size="13.8" text-anchor="middle" textLength="7.20" lengthAdjust="spacingAndGlyphs" >9</text>
<line x1="529.0" y1="1706.6" x2="529.0" y2="1710.7" stroke="#000" stroke-width="2.5"/>
<text x="528.20" y="1727.80" font-size="13.8" text-anchor="middle" textLength="14.40" lengthAdjust="spacingAndGlyphs" >12</text>
<line x1="602.4" y1="1706.6" x2="602.4" y2="1710.7" stroke="#000" stroke-width="2.5"/>
<text x="601.60" y="1727.80" font-size="13.8" text-anchor="middle" textLength="14.40" lengthAdjust="spacingAndGlyphs" >15</text>
<line x1="675.8" y1="1706.6" x2="675.8" y2="1710.7" stroke="#000" stroke-width="2.5"/>
<text x="675.00" y="1727.80" font-size="13.8" text-anchor="middle" textLength="14.40" lengthAdjust="spacingAndGlyphs" >18</text>
<line x1="749.2" y1="1706.6" x2="749.2" y2="1710.7" stroke="#000" stroke-width="2.5"/>
<text x="748.40" y="1727.80" font-size="13.8" text-anchor="middle" textLength="14.40" lengthAdjust="spacingAndGlyphs" >21</text>
<line x1="822.6" y1="1706.6" x2="822.6" y2="1710.7" stroke="#000" stroke-width="2.5"/>
<text x="821.80" y="1727.80" font-size="13.8" text-anchor="middle" textLength="14.40" lengthAdjust="spacingAndGlyphs" >24</text>
<line x1="896.0" y1="1706.6" x2="896.0" y2="1710.7" stroke="#000" stroke-width="2.5"/>
<text x="895.20" y="1727.80" font-size="13.8" text-anchor="middle" textLength="14.40" lengthAdjust="spacingAndGlyphs" >27</text>
<text x="183.00" y="1607.00" font-size="15.5" text-anchor="middle" textLength="194.00" lengthAdjust="spacingAndGlyphs" transform="rotate(-90 183.00 1607.00)" >variant allele frequency [%]</text>
<text x="515.20" y="1750.70" font-size="15.5" text-anchor="start" textLength="103.00" lengthAdjust="spacingAndGlyphs" >Time [months]</text>
<polyline points="235.4,1630 308.8,1703 382.2,1699.3 455.6,1706 529.0,1704 602.4,1704 675.8,1704 749.2,1705 822.6,1700 896.0,1703" fill="none" stroke="#7a0f9f" stroke-width="2.6"/>
<polygon points="235.40,1635.33 240.10,1626.73 230.70,1626.73" fill="#c890e0" stroke="#7a0f9f" stroke-width="2.3"/>
<polygon points="308.80,1708.33 313.50,1699.73 304.10,1699.73" fill="#c890e0" stroke="#7a0f9f" stroke-width="2.3"/>
<polygon points="382.20,1704.63 386.90,1696.03 377.50,1696.03" fill="#c890e0" stroke="#7a0f9f" stroke-width="2.3"/>
<polygon points="455.60,1711.33 460.30,1702.73 450.90,1702.73" fill="#c890e0" stroke="#7a0f9f" stroke-width="2.3"/>
<polygon points="529.00,1709.33 533.70,1700.73 524.30,1700.73" fill="#c890e0" stroke="#7a0f9f" stroke-width="2.3"/>
<polygon points="602.40,1709.33 607.10,1700.73 597.70,1700.73" fill="#c890e0" stroke="#7a0f9f" stroke-width="2.3"/>
<polygon points="675.80,1709.33 680.50,1700.73 671.10,1700.73" fill="#c890e0" stroke="#7a0f9f" stroke-width="2.3"/>
<polygon points="749.20,1710.33 753.90,1701.73 744.50,1701.73" fill="#c890e0" stroke="#7a0f9f" stroke-width="2.3"/>
<polygon points="822.60,1705.33 827.30,1696.73 817.90,1696.73" fill="#c890e0" stroke="#7a0f9f" stroke-width="2.3"/>
<polygon points="896.00,1708.33 900.70,1699.73 891.30,1699.73" fill="#c890e0" stroke="#7a0f9f" stroke-width="2.3"/>
<polyline points="235.4,1631.7 308.8,1696 382.2,1696 455.6,1690.7 529.0,1694 602.4,1706.5 675.8,1698 749.2,1699 822.6,1706.5 896.0,1706.5" fill="none" stroke="#0f7f9f" stroke-width="2.6"/>
<polygon points="235.40,1626.37 240.10,1634.97 230.70,1634.97" fill="#8fb9f2" stroke="#0f7f9f" stroke-width="2.3"/>
<polygon points="308.80,1690.67 313.50,1699.27 304.10,1699.27" fill="#8fb9f2" stroke="#0f7f9f" stroke-width="2.3"/>
<polygon points="382.20,1690.67 386.90,1699.27 377.50,1699.27" fill="#8fb9f2" stroke="#0f7f9f" stroke-width="2.3"/>
<polygon points="455.60,1685.37 460.30,1693.97 450.90,1693.97" fill="#8fb9f2" stroke="#0f7f9f" stroke-width="2.3"/>
<polygon points="529.00,1688.67 533.70,1697.27 524.30,1697.27" fill="#8fb9f2" stroke="#0f7f9f" stroke-width="2.3"/>
<polygon points="602.40,1701.17 607.10,1709.77 597.70,1709.77" fill="#8fb9f2" stroke="#0f7f9f" stroke-width="2.3"/>
<polygon points="675.80,1692.67 680.50,1701.27 671.10,1701.27" fill="#8fb9f2" stroke="#0f7f9f" stroke-width="2.3"/>
<polygon points="749.20,1693.67 753.90,1702.27 744.50,1702.27" fill="#8fb9f2" stroke="#0f7f9f" stroke-width="2.3"/>
<polygon points="822.60,1701.17 827.30,1709.77 817.90,1709.77" fill="#8fb9f2" stroke="#0f7f9f" stroke-width="2.3"/>
<polygon points="896.00,1701.17 900.70,1709.77 891.30,1709.77" fill="#8fb9f2" stroke="#0f7f9f" stroke-width="2.3"/>
<polyline points="235.4,1542 308.8,1700 382.2,1699 455.6,1693.3 529.0,1701 602.4,1691.2 675.8,1695.2 749.2,1701 822.6,1696 896.0,1700" fill="none" stroke="#0f9f6f" stroke-width="2.6"/>
<rect x="230.70" y="1537.30" width="9.4" height="9.4" fill="#b4f0d8" stroke="#0f9f6f" stroke-width="2.4" rx="0.8"/>
<rect x="304.10" y="1695.30" width="9.4" height="9.4" fill="#b4f0d8" stroke="#0f9f6f" stroke-width="2.4" rx="0.8"/>
<rect x="377.50" y="1694.30" width="9.4" height="9.4" fill="#b4f0d8" stroke="#0f9f6f" stroke-width="2.4" rx="0.8"/>
<rect x="450.90" y="1688.60" width="9.4" height="9.4" fill="#b4f0d8" stroke="#0f9f6f" stroke-width="2.4" rx="0.8"/>
<rect x="524.30" y="1696.30" width="9.4" height="9.4" fill="#b4f0d8" stroke="#0f9f6f" stroke-width="2.4" rx="0.8"/>
<rect x="597.70" y="1686.50" width="9.4" height="9.4" fill="#b4f0d8" stroke="#0f9f6f" stroke-width="2.4" rx="0.8"/>
<rect x="671.10" y="1690.50" width="9.4" height="9.4" fill="#b4f0d8" stroke="#0f9f6f" stroke-width="2.4" rx="0.8"/>
<rect x="744.50" y="1696.30" width="9.4" height="9.4" fill="#b4f0d8" stroke="#0f9f6f" stroke-width="2.4" rx="0.8"/>
<rect x="817.90" y="1691.30" width="9.4" height="9.4" fill="#b4f0d8" stroke="#0f9f6f" stroke-width="2.4" rx="0.8"/>
<rect x="891.30" y="1695.30" width="9.4" height="9.4" fill="#b4f0d8" stroke="#0f9f6f" stroke-width="2.4" rx="0.8"/>
<polyline points="235.4,1588.7 308.8,1706 382.2,1706 455.6,1706 529.0,1706 602.4,1706 675.8,1706 749.2,1706 822.6,1702.8 896.0,1704.8" fill="none" stroke="#0000cc" stroke-width="2.6"/>
<circle cx="235.40" cy="1588.70" r="3.9" fill="#9090f4" stroke="#0000cc" stroke-width="2.4"/>
<circle cx="308.80" cy="1706.00" r="3.9" fill="#9090f4" stroke="#0000cc" stroke-width="2.4"/>
<circle cx="382.20" cy="1706.00" r="3.9" fill="#9090f4" stroke="#0000cc" stroke-width="2.4"/>
<circle cx="455.60" cy="1706.00" r="3.9" fill="#9090f4" stroke="#0000cc" stroke-width="2.4"/>
<circle cx="529.00" cy="1706.00" r="3.9" fill="#9090f4" stroke="#0000cc" stroke-width="2.4"/>
<circle cx="602.40" cy="1706.00" r="3.9" fill="#9090f4" stroke="#0000cc" stroke-width="2.4"/>
<circle cx="675.80" cy="1706.00" r="3.9" fill="#9090f4" stroke="#0000cc" stroke-width="2.4"/>
<circle cx="749.20" cy="1706.00" r="3.9" fill="#9090f4" stroke="#0000cc" stroke-width="2.4"/>
<circle cx="822.60" cy="1702.80" r="3.9" fill="#9090f4" stroke="#0000cc" stroke-width="2.4"/>
<circle cx="896.00" cy="1704.80" r="3.9" fill="#9090f4" stroke="#0000cc" stroke-width="2.4"/>
<rect x="571.35" y="1527.35" width="116.95" height="84.65" fill="#fff" stroke="#1a1a1a" stroke-width="2.2"/>
<line x1="578.1" y1="1541.9" x2="592.8" y2="1541.9" stroke="#0000cc" stroke-width="2.9"/>
<line x1="578.1" y1="1560.6" x2="592.8" y2="1560.6" stroke="#0f7f9f" stroke-width="2.9"/>
<line x1="578.1" y1="1579.4" x2="592.8" y2="1579.4" stroke="#0f9f6f" stroke-width="2.9"/>
<line x1="578.1" y1="1600" x2="592.8" y2="1600" stroke="#7a0f9f" stroke-width="2.9"/>
<circle cx="585.50" cy="1541.90" r="3.9" fill="#9090f4" stroke="#0000cc" stroke-width="2.2"/>
<polygon points="585.50,1556.76 589.60,1564.56 581.40,1564.56" fill="#8fb9f2" stroke="#0f7f9f" stroke-width="2.1"/>
<rect x="581.10" y="1575.00" width="8.8" height="8.8" fill="#b4f0d8" stroke="#0f9f6f" stroke-width="2.3" rx="0.8"/>
<polygon points="585.20,1603.64 589.30,1595.84 581.10,1595.84" fill="#c890e0" stroke="#7a0f9f" stroke-width="2.1"/>
<text x="600.9" y="1547.7" font-size="14" font-style="italic" textLength="28.2" lengthAdjust="spacingAndGlyphs">SMO</text>
<text x="629.4" y="1543.1" font-size="8.2" textLength="19.4" lengthAdjust="spacingAndGlyphs">I408V</text>
<text x="600.9" y="1566.9" font-size="14" font-style="italic" textLength="37.6" lengthAdjust="spacingAndGlyphs">SUZ12</text>
<text x="639.4" y="1561.9" font-size="8.2" textLength="21" lengthAdjust="spacingAndGlyphs">R196*</text>
<text x="600.9" y="1586.5" font-size="14" font-style="italic" textLength="48.8" lengthAdjust="spacingAndGlyphs">MAP3K1</text>
<text x="650.6" y="1581.3" font-size="8.2" textLength="25.4" lengthAdjust="spacingAndGlyphs">E1294*</text>
<text x="600.9" y="1605.2" font-size="14" font-style="italic" textLength="29.4" lengthAdjust="spacingAndGlyphs">POLE</text>
<text x="631.5" y="1601" font-size="8.2" textLength="25.8" lengthAdjust="spacingAndGlyphs">K1942*</text>
</g>
</svg></body></html>
